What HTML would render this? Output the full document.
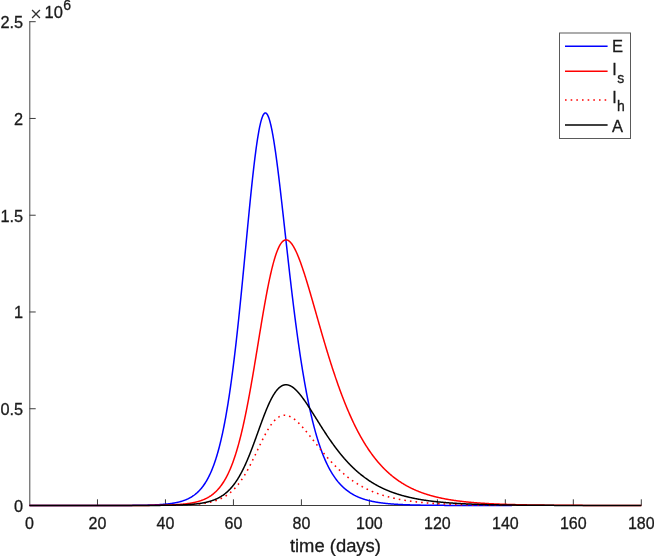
<!DOCTYPE html>
<html lang="en"><head><meta charset="utf-8"><title>Epidemic curves</title>
<style>html,body{margin:0;padding:0;background:#fff}svg{display:block}</style></head>
<body>
<svg width="654" height="556" viewBox="0 0 654 556" style="display:block">
<rect width="654" height="556" fill="#fff"/>
<g stroke="#3d3d3d" stroke-width="1" fill="none">
<path d="M29.8 21.2 V506.0" stroke="#484848"/>
<path d="M29.5 505.5 H641.3"/>
<path d="M97.48 505.5 v-6.2"/>
<path d="M165.46 505.5 v-6.2"/>
<path d="M233.43 505.5 v-6.2"/>
<path d="M301.41 505.5 v-6.2"/>
<path d="M369.39 505.5 v-6.2"/>
<path d="M437.37 505.5 v-6.2"/>
<path d="M505.34 505.5 v-6.2"/>
<path d="M573.32 505.5 v-6.2"/>
<path d="M641.30 505.5 v-6.2"/>
<path d="M29.5 505.50 h6.2"/>
<path d="M29.5 408.74 h6.2"/>
<path d="M29.5 311.98 h6.2"/>
<path d="M29.5 215.22 h6.2"/>
<path d="M29.5 118.46 h6.2"/>
<path d="M29.5 21.70 h6.2"/>
</g>
<g fill="none" stroke-width="1.5" stroke-linejoin="round">
<clipPath id="ce"><rect x="0" y="0" width="512" height="556"/></clipPath><clipPath id="ch"><rect x="192" y="0" width="310" height="556"/></clipPath>
<path d="M29.50 505.50 L29.84 505.50 L30.18 505.50 L30.52 505.50 L30.86 505.50 L31.20 505.50 L31.54 505.50 L31.88 505.50 L32.22 505.50 L32.56 505.50 L32.90 505.50 L33.24 505.50 L33.58 505.50 L33.92 505.50 L34.26 505.50 L34.60 505.50 L34.94 505.50 L35.28 505.50 L35.62 505.50 L35.96 505.50 L36.30 505.50 L36.64 505.50 L36.98 505.50 L37.32 505.50 L37.66 505.50 L38.00 505.50 L38.34 505.50 L38.68 505.50 L39.02 505.50 L39.36 505.50 L39.70 505.50 L40.04 505.50 L40.38 505.50 L40.72 505.50 L41.06 505.50 L41.40 505.50 L41.74 505.50 L42.08 505.50 L42.42 505.50 L42.76 505.50 L43.10 505.50 L43.44 505.50 L43.78 505.50 L44.12 505.50 L44.46 505.50 L44.80 505.50 L45.13 505.50 L45.47 505.50 L45.81 505.50 L46.15 505.50 L46.49 505.50 L46.83 505.50 L47.17 505.50 L47.51 505.50 L47.85 505.50 L48.19 505.50 L48.53 505.50 L48.87 505.50 L49.21 505.50 L49.55 505.50 L49.89 505.50 L50.23 505.50 L50.57 505.50 L50.91 505.50 L51.25 505.50 L51.59 505.50 L51.93 505.50 L52.27 505.50 L52.61 505.50 L52.95 505.50 L53.29 505.50 L53.63 505.50 L53.97 505.50 L54.31 505.50 L54.65 505.50 L54.99 505.50 L55.33 505.50 L55.67 505.50 L56.01 505.50 L56.35 505.50 L56.69 505.50 L57.03 505.50 L57.37 505.50 L57.71 505.50 L58.05 505.50 L58.39 505.50 L58.73 505.50 L59.07 505.50 L59.41 505.50 L59.75 505.50 L60.09 505.50 L60.43 505.50 L60.77 505.50 L61.11 505.50 L61.45 505.50 L61.79 505.50 L62.13 505.50 L62.47 505.50 L62.81 505.50 L63.15 505.50 L63.49 505.50 L63.83 505.50 L64.17 505.50 L64.51 505.50 L64.85 505.50 L65.19 505.50 L65.53 505.50 L65.87 505.50 L66.21 505.50 L66.55 505.50 L66.89 505.50 L67.23 505.50 L67.57 505.50 L67.91 505.50 L68.25 505.50 L68.59 505.50 L68.93 505.50 L69.27 505.50 L69.61 505.50 L69.95 505.50 L70.29 505.50 L70.63 505.50 L70.97 505.50 L71.31 505.50 L71.65 505.50 L71.99 505.50 L72.33 505.50 L72.67 505.50 L73.01 505.50 L73.35 505.50 L73.69 505.50 L74.03 505.50 L74.37 505.50 L74.71 505.50 L75.05 505.50 L75.38 505.50 L75.72 505.50 L76.06 505.50 L76.40 505.50 L76.74 505.50 L77.08 505.50 L77.42 505.50 L77.76 505.50 L78.10 505.50 L78.44 505.50 L78.78 505.50 L79.12 505.50 L79.46 505.50 L79.80 505.50 L80.14 505.50 L80.48 505.50 L80.82 505.50 L81.16 505.50 L81.50 505.50 L81.84 505.50 L82.18 505.50 L82.52 505.50 L82.86 505.50 L83.20 505.50 L83.54 505.50 L83.88 505.50 L84.22 505.50 L84.56 505.50 L84.90 505.50 L85.24 505.50 L85.58 505.50 L85.92 505.50 L86.26 505.50 L86.60 505.50 L86.94 505.50 L87.28 505.50 L87.62 505.49 L87.96 505.49 L88.30 505.49 L88.64 505.49 L88.98 505.49 L89.32 505.49 L89.66 505.49 L90.00 505.49 L90.34 505.49 L90.68 505.49 L91.02 505.49 L91.36 505.49 L91.70 505.49 L92.04 505.49 L92.38 505.49 L92.72 505.49 L93.06 505.49 L93.40 505.49 L93.74 505.49 L94.08 505.49 L94.42 505.49 L94.76 505.49 L95.10 505.49 L95.44 505.49 L95.78 505.49 L96.12 505.49 L96.46 505.49 L96.80 505.49 L97.14 505.49 L97.48 505.49 L97.82 505.49 L98.16 505.49 L98.50 505.49 L98.84 505.49 L99.18 505.49 L99.52 505.49 L99.86 505.49 L100.20 505.49 L100.54 505.49 L100.88 505.49 L101.22 505.49 L101.56 505.49 L101.90 505.49 L102.24 505.49 L102.58 505.49 L102.92 505.48 L103.26 505.48 L103.60 505.48 L103.94 505.48 L104.28 505.48 L104.62 505.48 L104.96 505.48 L105.30 505.48 L105.64 505.48 L105.97 505.48 L106.31 505.48 L106.65 505.48 L106.99 505.48 L107.33 505.48 L107.67 505.48 L108.01 505.48 L108.35 505.48 L108.69 505.48 L109.03 505.48 L109.37 505.48 L109.71 505.48 L110.05 505.47 L110.39 505.47 L110.73 505.47 L111.07 505.47 L111.41 505.47 L111.75 505.47 L112.09 505.47 L112.43 505.47 L112.77 505.47 L113.11 505.47 L113.45 505.47 L113.79 505.47 L114.13 505.47 L114.47 505.47 L114.81 505.46 L115.15 505.46 L115.49 505.46 L115.83 505.46 L116.17 505.46 L116.51 505.46 L116.85 505.46 L117.19 505.46 L117.53 505.46 L117.87 505.46 L118.21 505.45 L118.55 505.45 L118.89 505.45 L119.23 505.45 L119.57 505.45 L119.91 505.45 L120.25 505.45 L120.59 505.45 L120.93 505.44 L121.27 505.44 L121.61 505.44 L121.95 505.44 L122.29 505.44 L122.63 505.44 L122.97 505.44 L123.31 505.43 L123.65 505.43 L123.99 505.43 L124.33 505.43 L124.67 505.43 L125.01 505.43 L125.35 505.42 L125.69 505.42 L126.03 505.42 L126.37 505.42 L126.71 505.42 L127.05 505.41 L127.39 505.41 L127.73 505.41 L128.07 505.41 L128.41 505.41 L128.75 505.40 L129.09 505.40 L129.43 505.40 L129.77 505.40 L130.11 505.39 L130.45 505.39 L130.79 505.39 L131.13 505.39 L131.47 505.38 L131.81 505.38 L132.15 505.38 L132.49 505.37 L132.83 505.37 L133.17 505.37 L133.51 505.36 L133.85 505.36 L134.19 505.36 L134.53 505.35 L134.87 505.35 L135.21 505.35 L135.55 505.34 L135.89 505.34 L136.23 505.34 L136.56 505.33 L136.90 505.33 L137.24 505.32 L137.58 505.32 L137.92 505.31 L138.26 505.31 L138.60 505.30 L138.94 505.30 L139.28 505.29 L139.62 505.29 L139.96 505.28 L140.30 505.28 L140.64 505.27 L140.98 505.27 L141.32 505.26 L141.66 505.26 L142.00 505.25 L142.34 505.24 L142.68 505.24 L143.02 505.23 L143.36 505.22 L143.70 505.22 L144.04 505.21 L144.38 505.20 L144.72 505.20 L145.06 505.19 L145.40 505.18 L145.74 505.17 L146.08 505.17 L146.42 505.16 L146.76 505.15 L147.10 505.14 L147.44 505.13 L147.78 505.12 L148.12 505.11 L148.46 505.10 L148.80 505.09 L149.14 505.08 L149.48 505.07 L149.82 505.06 L150.16 505.05 L150.50 505.04 L150.84 505.03 L151.18 505.02 L151.52 505.01 L151.86 504.99 L152.20 504.98 L152.54 504.97 L152.88 504.96 L153.22 504.94 L153.56 504.93 L153.90 504.91 L154.24 504.90 L154.58 504.89 L154.92 504.87 L155.26 504.85 L155.60 504.84 L155.94 504.82 L156.28 504.81 L156.62 504.79 L156.96 504.77 L157.30 504.75 L157.64 504.74 L157.98 504.72 L158.32 504.70 L158.66 504.68 L159.00 504.66 L159.34 504.64 L159.68 504.61 L160.02 504.59 L160.36 504.57 L160.70 504.55 L161.04 504.52 L161.38 504.50 L161.72 504.48 L162.06 504.45 L162.40 504.42 L162.74 504.40 L163.08 504.37 L163.42 504.34 L163.76 504.31 L164.10 504.29 L164.44 504.26 L164.78 504.22 L165.12 504.19 L165.46 504.16 L165.80 504.13 L166.14 504.09 L166.48 504.06 L166.82 504.02 L167.16 503.99 L167.49 503.95 L167.83 503.91 L168.17 503.87 L168.51 503.83 L168.85 503.79 L169.19 503.75 L169.53 503.71 L169.87 503.66 L170.21 503.62 L170.55 503.57 L170.89 503.52 L171.23 503.48 L171.57 503.43 L171.91 503.38 L172.25 503.32 L172.59 503.27 L172.93 503.21 L173.27 503.16 L173.61 503.10 L173.95 503.04 L174.29 502.98 L174.63 502.92 L174.97 502.86 L175.31 502.79 L175.65 502.72 L175.99 502.66 L176.33 502.59 L176.67 502.51 L177.01 502.44 L177.35 502.37 L177.69 502.29 L178.03 502.21 L178.37 502.13 L178.71 502.05 L179.05 501.96 L179.39 501.87 L179.73 501.79 L180.07 501.69 L180.41 501.60 L180.75 501.51 L181.09 501.41 L181.43 501.31 L181.77 501.20 L182.11 501.10 L182.45 500.99 L182.79 500.88 L183.13 500.77 L183.47 500.65 L183.81 500.53 L184.15 500.41 L184.49 500.29 L184.83 500.16 L185.17 500.03 L185.51 499.89 L185.85 499.76 L186.19 499.62 L186.53 499.47 L186.87 499.32 L187.21 499.17 L187.55 499.02 L187.89 498.86 L188.23 498.70 L188.57 498.53 L188.91 498.36 L189.25 498.19 L189.59 498.01 L189.93 497.83 L190.27 497.64 L190.61 497.45 L190.95 497.25 L191.29 497.05 L191.63 496.84 L191.97 496.63 L192.31 496.42 L192.65 496.19 L192.99 495.97 L193.33 495.74 L193.67 495.50 L194.01 495.25 L194.35 495.01 L194.69 494.75 L195.03 494.49 L195.37 494.22 L195.71 493.95 L196.05 493.67 L196.39 493.38 L196.73 493.09 L197.07 492.79 L197.41 492.48 L197.74 492.16 L198.08 491.84 L198.42 491.51 L198.76 491.17 L199.10 490.82 L199.44 490.47 L199.78 490.11 L200.12 489.73 L200.46 489.35 L200.80 488.96 L201.14 488.57 L201.48 488.16 L201.82 487.74 L202.16 487.31 L202.50 486.88 L202.84 486.43 L203.18 485.97 L203.52 485.50 L203.86 485.02 L204.20 484.53 L204.54 484.03 L204.88 483.51 L205.22 482.99 L205.56 482.45 L205.90 481.90 L206.24 481.34 L206.58 480.76 L206.92 480.17 L207.26 479.57 L207.60 478.95 L207.94 478.32 L208.28 477.68 L208.62 477.02 L208.96 476.34 L209.30 475.65 L209.64 474.95 L209.98 474.23 L210.32 473.49 L210.66 472.74 L211.00 471.96 L211.34 471.18 L211.68 470.37 L212.02 469.55 L212.36 468.70 L212.70 467.84 L213.04 466.96 L213.38 466.07 L213.72 465.15 L214.06 464.21 L214.40 463.25 L214.74 462.27 L215.08 461.27 L215.42 460.24 L215.76 459.20 L216.10 458.13 L216.44 457.04 L216.78 455.93 L217.12 454.79 L217.46 453.63 L217.80 452.45 L218.14 451.24 L218.48 450.00 L218.82 448.74 L219.16 447.45 L219.50 446.14 L219.84 444.80 L220.18 443.43 L220.52 442.04 L220.86 440.62 L221.20 439.16 L221.54 437.68 L221.88 436.17 L222.22 434.63 L222.56 433.06 L222.90 431.46 L223.24 429.83 L223.58 428.17 L223.92 426.48 L224.26 424.75 L224.60 422.99 L224.94 421.20 L225.28 419.37 L225.62 417.52 L225.96 415.62 L226.30 413.70 L226.64 411.74 L226.98 409.74 L227.32 407.71 L227.66 405.64 L228.00 403.54 L228.33 401.40 L228.67 399.23 L229.01 397.02 L229.35 394.77 L229.69 392.49 L230.03 390.17 L230.37 387.81 L230.71 385.41 L231.05 382.98 L231.39 380.51 L231.73 378.00 L232.07 375.46 L232.41 372.88 L232.75 370.26 L233.09 367.60 L233.43 364.91 L233.77 362.18 L234.11 359.41 L234.45 356.61 L234.79 353.77 L235.13 350.89 L235.47 347.98 L235.81 345.04 L236.15 342.06 L236.49 339.04 L236.83 335.99 L237.17 332.91 L237.51 329.79 L237.85 326.64 L238.19 323.47 L238.53 320.26 L238.87 317.02 L239.21 313.75 L239.55 310.45 L239.89 307.13 L240.23 303.78 L240.57 300.40 L240.91 297.01 L241.25 293.59 L241.59 290.14 L241.93 286.68 L242.27 283.20 L242.61 279.70 L242.95 276.19 L243.29 272.66 L243.63 269.12 L243.97 265.56 L244.31 262.00 L244.65 258.43 L244.99 254.86 L245.33 251.28 L245.67 247.70 L246.01 244.12 L246.35 240.54 L246.69 236.96 L247.03 233.40 L247.37 229.84 L247.71 226.29 L248.05 222.75 L248.39 219.23 L248.73 215.72 L249.07 212.24 L249.41 208.78 L249.75 205.34 L250.09 201.93 L250.43 198.54 L250.77 195.19 L251.11 191.88 L251.45 188.60 L251.79 185.36 L252.13 182.16 L252.47 179.01 L252.81 175.90 L253.15 172.85 L253.49 169.84 L253.83 166.89 L254.17 164.00 L254.51 161.16 L254.85 158.39 L255.19 155.68 L255.53 153.03 L255.87 150.46 L256.21 147.95 L256.55 145.52 L256.89 143.16 L257.23 140.88 L257.57 138.68 L257.91 136.55 L258.25 134.51 L258.59 132.56 L258.92 130.69 L259.26 128.90 L259.60 127.21 L259.94 125.61 L260.28 124.10 L260.62 122.68 L260.96 121.35 L261.30 120.12 L261.64 118.98 L261.98 117.95 L262.32 117.01 L262.66 116.16 L263.00 115.42 L263.34 114.77 L263.68 114.23 L264.02 113.78 L264.36 113.43 L264.70 113.18 L265.04 113.03 L265.38 112.98 L265.72 113.03 L266.06 113.17 L266.40 113.42 L266.74 113.76 L267.08 114.19 L267.42 114.72 L267.76 115.35 L268.10 116.07 L268.44 116.88 L268.78 117.78 L269.12 118.77 L269.46 119.85 L269.80 121.02 L270.14 122.27 L270.48 123.61 L270.82 125.02 L271.16 126.52 L271.50 128.10 L271.84 129.75 L272.18 131.48 L272.52 133.28 L272.86 135.16 L273.20 137.10 L273.54 139.11 L273.88 141.18 L274.22 143.32 L274.56 145.52 L274.90 147.78 L275.24 150.09 L275.58 152.46 L275.92 154.88 L276.26 157.35 L276.60 159.87 L276.94 162.44 L277.28 165.05 L277.62 167.70 L277.96 170.39 L278.30 173.12 L278.64 175.89 L278.98 178.68 L279.32 181.51 L279.66 184.37 L280.00 187.26 L280.34 190.17 L280.68 193.10 L281.02 196.06 L281.36 199.03 L281.70 202.02 L282.04 205.03 L282.38 208.06 L282.72 211.09 L283.06 214.14 L283.40 217.19 L283.74 220.25 L284.08 223.32 L284.42 226.39 L284.76 229.47 L285.10 232.55 L285.44 235.62 L285.78 238.70 L286.12 241.77 L286.46 244.84 L286.80 247.90 L287.14 250.96 L287.48 254.00 L287.82 257.04 L288.16 260.07 L288.50 263.09 L288.84 266.10 L289.18 269.09 L289.51 272.07 L289.85 275.04 L290.19 277.99 L290.53 280.92 L290.87 283.84 L291.21 286.74 L291.55 289.62 L291.89 292.48 L292.23 295.32 L292.57 298.15 L292.91 300.95 L293.25 303.73 L293.59 306.48 L293.93 309.22 L294.27 311.93 L294.61 314.62 L294.95 317.29 L295.29 319.93 L295.63 322.55 L295.97 325.14 L296.31 327.71 L296.65 330.25 L296.99 332.77 L297.33 335.27 L297.67 337.73 L298.01 340.18 L298.35 342.59 L298.69 344.98 L299.03 347.35 L299.37 349.69 L299.71 352.00 L300.05 354.29 L300.39 356.55 L300.73 358.78 L301.07 360.99 L301.41 363.17 L301.75 365.33 L302.09 367.46 L302.43 369.56 L302.77 371.64 L303.11 373.69 L303.45 375.71 L303.79 377.71 L304.13 379.69 L304.47 381.64 L304.81 383.56 L305.15 385.46 L305.49 387.33 L305.83 389.18 L306.17 391.01 L306.51 392.81 L306.85 394.58 L307.19 396.33 L307.53 398.06 L307.87 399.76 L308.21 401.44 L308.55 403.10 L308.89 404.73 L309.23 406.34 L309.57 407.93 L309.91 409.49 L310.25 411.04 L310.59 412.56 L310.93 414.05 L311.27 415.53 L311.61 416.99 L311.95 418.42 L312.29 419.83 L312.63 421.22 L312.97 422.59 L313.31 423.94 L313.65 425.27 L313.99 426.58 L314.33 427.88 L314.67 429.15 L315.01 430.40 L315.35 431.63 L315.69 432.85 L316.03 434.04 L316.37 435.22 L316.71 436.38 L317.05 437.52 L317.39 438.64 L317.73 439.75 L318.07 440.84 L318.41 441.91 L318.75 442.97 L319.09 444.01 L319.43 445.03 L319.77 446.04 L320.10 447.03 L320.44 448.00 L320.78 448.96 L321.12 449.91 L321.46 450.84 L321.80 451.75 L322.14 452.65 L322.48 453.54 L322.82 454.41 L323.16 455.27 L323.50 456.11 L323.84 456.94 L324.18 457.76 L324.52 458.56 L324.86 459.35 L325.20 460.13 L325.54 460.90 L325.88 461.65 L326.22 462.39 L326.56 463.12 L326.90 463.83 L327.24 464.54 L327.58 465.23 L327.92 465.91 L328.26 466.58 L328.60 467.24 L328.94 467.89 L329.28 468.53 L329.62 469.16 L329.96 469.78 L330.30 470.38 L330.64 470.98 L330.98 471.57 L331.32 472.14 L331.66 472.71 L332.00 473.27 L332.34 473.82 L332.68 474.36 L333.02 474.89 L333.36 475.41 L333.70 475.93 L334.04 476.43 L334.38 476.93 L334.72 477.41 L335.06 477.89 L335.40 478.37 L335.74 478.83 L336.08 479.29 L336.42 479.73 L336.76 480.18 L337.10 480.61 L337.44 481.04 L337.78 481.45 L338.12 481.87 L338.46 482.27 L338.80 482.67 L339.14 483.06 L339.48 483.44 L339.82 483.82 L340.16 484.19 L340.50 484.56 L340.84 484.92 L341.18 485.27 L341.52 485.62 L341.86 485.96 L342.20 486.30 L342.54 486.63 L342.88 486.95 L343.22 487.27 L343.56 487.58 L343.90 487.89 L344.24 488.19 L344.58 488.49 L344.92 488.78 L345.26 489.07 L345.60 489.35 L345.94 489.63 L346.28 489.90 L346.62 490.17 L346.96 490.44 L347.30 490.69 L347.64 490.95 L347.98 491.20 L348.32 491.45 L348.66 491.69 L349.00 491.93 L349.34 492.16 L349.68 492.39 L350.02 492.61 L350.36 492.84 L350.69 493.05 L351.03 493.27 L351.37 493.48 L351.71 493.69 L352.05 493.89 L352.39 494.09 L352.73 494.29 L353.07 494.48 L353.41 494.67 L353.75 494.86 L354.09 495.04 L354.43 495.22 L354.77 495.40 L355.11 495.57 L355.45 495.74 L355.79 495.91 L356.13 496.07 L356.47 496.24 L356.81 496.40 L357.15 496.55 L357.49 496.71 L357.83 496.86 L358.17 497.01 L358.51 497.15 L358.85 497.30 L359.19 497.44 L359.53 497.58 L359.87 497.71 L360.21 497.85 L360.55 497.98 L360.89 498.11 L361.23 498.23 L361.57 498.36 L361.91 498.48 L362.25 498.60 L362.59 498.72 L362.93 498.84 L363.27 498.95 L363.61 499.07 L363.95 499.18 L364.29 499.28 L364.63 499.39 L364.97 499.50 L365.31 499.60 L365.65 499.70 L365.99 499.80 L366.33 499.90 L366.67 499.99 L367.01 500.09 L367.35 500.18 L367.69 500.27 L368.03 500.36 L368.37 500.45 L368.71 500.54 L369.05 500.62 L369.39 500.71 L369.73 500.79 L370.07 500.87 L370.41 500.95 L370.75 501.03 L371.09 501.10 L371.43 501.18 L371.77 501.25 L372.11 501.33 L372.45 501.40 L372.79 501.47 L373.13 501.54 L373.47 501.60 L373.81 501.67 L374.15 501.74 L374.49 501.80 L374.83 501.86 L375.17 501.93 L375.51 501.99 L375.85 502.05 L376.19 502.11 L376.53 502.16 L376.87 502.22 L377.21 502.28 L377.55 502.33 L377.89 502.39 L378.23 502.44 L378.57 502.49 L378.91 502.54 L379.25 502.59 L379.59 502.64 L379.93 502.69 L380.27 502.74 L380.61 502.79 L380.95 502.83 L381.28 502.88 L381.62 502.92 L381.96 502.97 L382.30 503.01 L382.64 503.05 L382.98 503.09 L383.32 503.13 L383.66 503.18 L384.00 503.21 L384.34 503.25 L384.68 503.29 L385.02 503.33 L385.36 503.37 L385.70 503.40 L386.04 503.44 L386.38 503.47 L386.72 503.51 L387.06 503.54 L387.40 503.57 L387.74 503.61 L388.08 503.64 L388.42 503.67 L388.76 503.70 L389.10 503.73 L389.44 503.76 L389.78 503.79 L390.12 503.82 L390.46 503.85 L390.80 503.88 L391.14 503.90 L391.48 503.93 L391.82 503.96 L392.16 503.98 L392.50 504.01 L392.84 504.03 L393.18 504.06 L393.52 504.08 L393.86 504.11 L394.20 504.13 L394.54 504.15 L394.88 504.18 L395.22 504.20 L395.56 504.22 L395.90 504.24 L396.24 504.26 L396.58 504.28 L396.92 504.30 L397.26 504.32 L397.60 504.34 L397.94 504.36 L398.28 504.38 L398.62 504.40 L398.96 504.42 L399.30 504.44 L399.64 504.45 L399.98 504.47 L400.32 504.49 L400.66 504.51 L401.00 504.52 L401.34 504.54 L401.68 504.55 L402.02 504.57 L402.36 504.59 L402.70 504.60 L403.04 504.62 L403.38 504.63 L403.72 504.64 L404.06 504.66 L404.40 504.67 L404.74 504.69 L405.08 504.70 L405.42 504.71 L405.76 504.73 L406.10 504.74 L406.44 504.75 L406.78 504.76 L407.12 504.78 L407.46 504.79 L407.80 504.80 L408.14 504.81 L408.48 504.82 L408.82 504.83 L409.16 504.85 L409.50 504.86 L409.84 504.87 L410.18 504.88 L410.52 504.89 L410.86 504.90 L411.20 504.91 L411.54 504.92 L411.87 504.93 L412.21 504.94 L412.55 504.94 L412.89 504.95 L413.23 504.96 L413.57 504.97 L413.91 504.98 L414.25 504.99 L414.59 505.00 L414.93 505.01 L415.27 505.01 L415.61 505.02 L415.95 505.03 L416.29 505.04 L416.63 505.04 L416.97 505.05 L417.31 505.06 L417.65 505.07 L417.99 505.07 L418.33 505.08 L418.67 505.09 L419.01 505.09 L419.35 505.10 L419.69 505.11 L420.03 505.11 L420.37 505.12 L420.71 505.13 L421.05 505.13 L421.39 505.14 L421.73 505.14 L422.07 505.15 L422.41 505.15 L422.75 505.16 L423.09 505.17 L423.43 505.17 L423.77 505.18 L424.11 505.18 L424.45 505.19 L424.79 505.19 L425.13 505.20 L425.47 505.20 L425.81 505.21 L426.15 505.21 L426.49 505.22 L426.83 505.22 L427.17 505.22 L427.51 505.23 L427.85 505.23 L428.19 505.24 L428.53 505.24 L428.87 505.25 L429.21 505.25 L429.55 505.25 L429.89 505.26 L430.23 505.26 L430.57 505.27 L430.91 505.27 L431.25 505.27 L431.59 505.28 L431.93 505.28 L432.27 505.28 L432.61 505.29 L432.95 505.29 L433.29 505.29 L433.63 505.30 L433.97 505.30 L434.31 505.30 L434.65 505.31 L434.99 505.31 L435.33 505.31 L435.67 505.31 L436.01 505.32 L436.35 505.32 L436.69 505.32 L437.03 505.33 L437.37 505.33 L437.71 505.33 L438.05 505.33 L438.39 505.34 L438.73 505.34 L439.07 505.34 L439.41 505.34 L439.75 505.35 L440.09 505.35 L440.43 505.35 L440.77 505.35 L441.11 505.36 L441.45 505.36 L441.79 505.36 L442.13 505.36 L442.46 505.36 L442.80 505.37 L443.14 505.37 L443.48 505.37 L443.82 505.37 L444.16 505.37 L444.50 505.38 L444.84 505.38 L445.18 505.38 L445.52 505.38 L445.86 505.38 L446.20 505.39 L446.54 505.39 L446.88 505.39 L447.22 505.39 L447.56 505.39 L447.90 505.39 L448.24 505.40 L448.58 505.40 L448.92 505.40 L449.26 505.40 L449.60 505.40 L449.94 505.40 L450.28 505.40 L450.62 505.41 L450.96 505.41 L451.30 505.41 L451.64 505.41 L451.98 505.41 L452.32 505.41 L452.66 505.41 L453.00 505.42 L453.34 505.42 L453.68 505.42 L454.02 505.42 L454.36 505.42 L454.70 505.42 L455.04 505.42 L455.38 505.42 L455.72 505.42 L456.06 505.43 L456.40 505.43 L456.74 505.43 L457.08 505.43 L457.42 505.43 L457.76 505.43 L458.10 505.43 L458.44 505.43 L458.78 505.43 L459.12 505.44 L459.46 505.44 L459.80 505.44 L460.14 505.44 L460.48 505.44 L460.82 505.44 L461.16 505.44 L461.50 505.44 L461.84 505.44 L462.18 505.44 L462.52 505.44 L462.86 505.44 L463.20 505.45 L463.54 505.45 L463.88 505.45 L464.22 505.45 L464.56 505.45 L464.90 505.45 L465.24 505.45 L465.58 505.45 L465.92 505.45 L466.26 505.45 L466.60 505.45 L466.94 505.45 L467.28 505.45 L467.62 505.45 L467.96 505.46 L468.30 505.46 L468.64 505.46 L468.98 505.46 L469.32 505.46 L469.66 505.46 L470.00 505.46 L470.34 505.46 L470.68 505.46 L471.02 505.46 L471.36 505.46 L471.70 505.46 L472.04 505.46 L472.38 505.46 L472.72 505.46 L473.05 505.46 L473.39 505.46 L473.73 505.47 L474.07 505.47 L474.41 505.47 L474.75 505.47 L475.09 505.47 L475.43 505.47 L475.77 505.47 L476.11 505.47 L476.45 505.47 L476.79 505.47 L477.13 505.47 L477.47 505.47 L477.81 505.47 L478.15 505.47 L478.49 505.47 L478.83 505.47 L479.17 505.47 L479.51 505.47 L479.85 505.47 L480.19 505.47 L480.53 505.47 L480.87 505.47 L481.21 505.47 L481.55 505.47 L481.89 505.47 L482.23 505.48 L482.57 505.48 L482.91 505.48 L483.25 505.48 L483.59 505.48 L483.93 505.48 L484.27 505.48 L484.61 505.48 L484.95 505.48 L485.29 505.48 L485.63 505.48 L485.97 505.48 L486.31 505.48 L486.65 505.48 L486.99 505.48 L487.33 505.48 L487.67 505.48 L488.01 505.48 L488.35 505.48 L488.69 505.48 L489.03 505.48 L489.37 505.48 L489.71 505.48 L490.05 505.48 L490.39 505.48 L490.73 505.48 L491.07 505.48 L491.41 505.48 L491.75 505.48 L492.09 505.48 L492.43 505.48 L492.77 505.48 L493.11 505.48 L493.45 505.48 L493.79 505.48 L494.13 505.48 L494.47 505.48 L494.81 505.48 L495.15 505.49 L495.49 505.49 L495.83 505.49 L496.17 505.49 L496.51 505.49 L496.85 505.49 L497.19 505.49 L497.53 505.49 L497.87 505.49 L498.21 505.49 L498.55 505.49 L498.89 505.49 L499.23 505.49 L499.57 505.49 L499.91 505.49 L500.25 505.49 L500.59 505.49 L500.93 505.49 L501.27 505.49 L501.61 505.49 L501.95 505.49 L502.29 505.49 L502.63 505.49 L502.97 505.49 L503.31 505.49 L503.64 505.49 L503.98 505.49 L504.32 505.49 L504.66 505.49 L505.00 505.49 L505.34 505.49 L505.68 505.49 L506.02 505.49 L506.36 505.49 L506.70 505.49 L507.04 505.49 L507.38 505.49 L507.72 505.49 L508.06 505.49 L508.40 505.49 L508.74 505.49 L509.08 505.49 L509.42 505.49 L509.76 505.49 L510.10 505.49 L510.44 505.49 L510.78 505.49 L511.12 505.49 L511.46 505.49 L511.80 505.49 L512.14 505.49 L512.48 505.49 L512.82 505.49 L513.16 505.49 L513.50 505.49 L513.84 505.49 L514.18 505.49 L514.52 505.49 L514.86 505.49 L515.20 505.49 L515.54 505.49 L515.88 505.49 L516.22 505.49 L516.56 505.49 L516.90 505.49 L517.24 505.49 L517.58 505.49 L517.92 505.49 L518.26 505.49 L518.60 505.49 L518.94 505.49 L519.28 505.49 L519.62 505.49 L519.96 505.49 L520.30 505.49 L520.64 505.49 L520.98 505.49 L521.32 505.49 L521.66 505.49 L522.00 505.49 L522.34 505.49 L522.68 505.49 L523.02 505.49 L523.36 505.49 L523.70 505.49 L524.04 505.49 L524.38 505.49 L524.72 505.49 L525.06 505.50 L525.40 505.50 L525.74 505.50 L526.08 505.50 L526.42 505.50 L526.76 505.50 L527.10 505.50 L527.44 505.50 L527.78 505.50 L528.12 505.50 L528.46 505.50 L528.80 505.50 L529.14 505.50 L529.48 505.50 L529.82 505.50 L530.16 505.50 L530.50 505.50 L530.84 505.50 L531.18 505.50 L531.52 505.50 L531.86 505.50 L532.20 505.50 L532.54 505.50 L532.88 505.50 L533.22 505.50 L533.56 505.50 L533.90 505.50 L534.23 505.50 L534.57 505.50 L534.91 505.50 L535.25 505.50 L535.59 505.50 L535.93 505.50 L536.27 505.50 L536.61 505.50 L536.95 505.50 L537.29 505.50 L537.63 505.50 L537.97 505.50 L538.31 505.50 L538.65 505.50 L538.99 505.50 L539.33 505.50 L539.67 505.50 L540.01 505.50 L540.35 505.50 L540.69 505.50 L541.03 505.50 L541.37 505.50 L541.71 505.50 L542.05 505.50 L542.39 505.50 L542.73 505.50 L543.07 505.50 L543.41 505.50 L543.75 505.50 L544.09 505.50 L544.43 505.50 L544.77 505.50 L545.11 505.50 L545.45 505.50 L545.79 505.50 L546.13 505.50 L546.47 505.50 L546.81 505.50 L547.15 505.50 L547.49 505.50 L547.83 505.50 L548.17 505.50 L548.51 505.50 L548.85 505.50 L549.19 505.50 L549.53 505.50 L549.87 505.50 L550.21 505.50 L550.55 505.50 L550.89 505.50 L551.23 505.50 L551.57 505.50 L551.91 505.50 L552.25 505.50 L552.59 505.50 L552.93 505.50 L553.27 505.50 L553.61 505.50 L553.95 505.50 L554.29 505.50 L554.63 505.50 L554.97 505.50 L555.31 505.50 L555.65 505.50 L555.99 505.50 L556.33 505.50 L556.67 505.50 L557.01 505.50 L557.35 505.50 L557.69 505.50 L558.03 505.50 L558.37 505.50 L558.71 505.50 L559.05 505.50 L559.39 505.50 L559.73 505.50 L560.07 505.50 L560.41 505.50 L560.75 505.50 L561.09 505.50 L561.43 505.50 L561.77 505.50 L562.11 505.50 L562.45 505.50 L562.79 505.50 L563.13 505.50 L563.47 505.50 L563.81 505.50 L564.15 505.50 L564.49 505.50 L564.82 505.50 L565.16 505.50 L565.50 505.50 L565.84 505.50 L566.18 505.50 L566.52 505.50 L566.86 505.50 L567.20 505.50 L567.54 505.50 L567.88 505.50 L568.22 505.50 L568.56 505.50 L568.90 505.50 L569.24 505.50 L569.58 505.50 L569.92 505.50 L570.26 505.50 L570.60 505.50 L570.94 505.50 L571.28 505.50 L571.62 505.50 L571.96 505.50 L572.30 505.50 L572.64 505.50 L572.98 505.50 L573.32 505.50 L573.66 505.50 L574.00 505.50 L574.34 505.50 L574.68 505.50 L575.02 505.50 L575.36 505.50 L575.70 505.50 L576.04 505.50 L576.38 505.50 L576.72 505.50 L577.06 505.50 L577.40 505.50 L577.74 505.50 L578.08 505.50 L578.42 505.50 L578.76 505.50 L579.10 505.50 L579.44 505.50 L579.78 505.50 L580.12 505.50 L580.46 505.50 L580.80 505.50 L581.14 505.50 L581.48 505.50 L581.82 505.50 L582.16 505.50 L582.50 505.50 L582.84 505.50 L583.18 505.50 L583.52 505.50 L583.86 505.50 L584.20 505.50 L584.54 505.50 L584.88 505.50 L585.22 505.50 L585.56 505.50 L585.90 505.50 L586.24 505.50 L586.58 505.50 L586.92 505.50 L587.26 505.50 L587.60 505.50 L587.94 505.50 L588.28 505.50 L588.62 505.50 L588.96 505.50 L589.30 505.50 L589.64 505.50 L589.98 505.50 L590.32 505.50 L590.66 505.50 L591.00 505.50 L591.34 505.50 L591.68 505.50 L592.02 505.50 L592.36 505.50 L592.70 505.50 L593.04 505.50 L593.38 505.50 L593.72 505.50 L594.06 505.50 L594.40 505.50 L594.74 505.50 L595.08 505.50 L595.41 505.50 L595.75 505.50 L596.09 505.50 L596.43 505.50 L596.77 505.50 L597.11 505.50 L597.45 505.50 L597.79 505.50 L598.13 505.50 L598.47 505.50 L598.81 505.50 L599.15 505.50 L599.49 505.50 L599.83 505.50 L600.17 505.50 L600.51 505.50 L600.85 505.50 L601.19 505.50 L601.53 505.50 L601.87 505.50 L602.21 505.50 L602.55 505.50 L602.89 505.50 L603.23 505.50 L603.57 505.50 L603.91 505.50 L604.25 505.50 L604.59 505.50 L604.93 505.50 L605.27 505.50 L605.61 505.50 L605.95 505.50 L606.29 505.50 L606.63 505.50 L606.97 505.50 L607.31 505.50 L607.65 505.50 L607.99 505.50 L608.33 505.50 L608.67 505.50 L609.01 505.50 L609.35 505.50 L609.69 505.50 L610.03 505.50 L610.37 505.50 L610.71 505.50 L611.05 505.50 L611.39 505.50 L611.73 505.50 L612.07 505.50 L612.41 505.50 L612.75 505.50 L613.09 505.50 L613.43 505.50 L613.77 505.50 L614.11 505.50 L614.45 505.50 L614.79 505.50 L615.13 505.50 L615.47 505.50 L615.81 505.50 L616.15 505.50 L616.49 505.50 L616.83 505.50 L617.17 505.50 L617.51 505.50 L617.85 505.50 L618.19 505.50 L618.53 505.50 L618.87 505.50 L619.21 505.50 L619.55 505.50 L619.89 505.50 L620.23 505.50 L620.57 505.50 L620.91 505.50 L621.25 505.50 L621.59 505.50 L621.93 505.50 L622.27 505.50 L622.61 505.50 L622.95 505.50 L623.29 505.50 L623.63 505.50 L623.97 505.50 L624.31 505.50 L624.65 505.50 L624.99 505.50 L625.33 505.50 L625.67 505.50 L626.00 505.50 L626.34 505.50 L626.68 505.50 L627.02 505.50 L627.36 505.50 L627.70 505.50 L628.04 505.50 L628.38 505.50 L628.72 505.50 L629.06 505.50 L629.40 505.50 L629.74 505.50 L630.08 505.50 L630.42 505.50 L630.76 505.50 L631.10 505.50 L631.44 505.50 L631.78 505.50 L632.12 505.50 L632.46 505.50 L632.80 505.50 L633.14 505.50 L633.48 505.50 L633.82 505.50 L634.16 505.50 L634.50 505.50 L634.84 505.50 L635.18 505.50 L635.52 505.50 L635.86 505.50 L636.20 505.50 L636.54 505.50 L636.88 505.50 L637.22 505.50 L637.56 505.50 L637.90 505.50 L638.24 505.50 L638.58 505.50 L638.92 505.50 L639.26 505.50 L639.60 505.50 L639.94 505.50 L640.28 505.50 L640.62 505.50 L640.96 505.50 L641.30 505.50" stroke="#0000ff" clip-path="url(#ce)"/>
<path d="M29.50 505.50 L29.84 505.50 L30.18 505.50 L30.52 505.50 L30.86 505.50 L31.20 505.50 L31.54 505.50 L31.88 505.50 L32.22 505.50 L32.56 505.50 L32.90 505.50 L33.24 505.50 L33.58 505.50 L33.92 505.50 L34.26 505.50 L34.60 505.50 L34.94 505.50 L35.28 505.50 L35.62 505.50 L35.96 505.50 L36.30 505.50 L36.64 505.50 L36.98 505.50 L37.32 505.50 L37.66 505.50 L38.00 505.50 L38.34 505.50 L38.68 505.50 L39.02 505.50 L39.36 505.50 L39.70 505.50 L40.04 505.50 L40.38 505.50 L40.72 505.50 L41.06 505.50 L41.40 505.50 L41.74 505.50 L42.08 505.50 L42.42 505.50 L42.76 505.50 L43.10 505.50 L43.44 505.50 L43.78 505.50 L44.12 505.50 L44.46 505.50 L44.80 505.50 L45.13 505.50 L45.47 505.50 L45.81 505.50 L46.15 505.50 L46.49 505.50 L46.83 505.50 L47.17 505.50 L47.51 505.50 L47.85 505.50 L48.19 505.50 L48.53 505.50 L48.87 505.50 L49.21 505.50 L49.55 505.50 L49.89 505.50 L50.23 505.50 L50.57 505.50 L50.91 505.50 L51.25 505.50 L51.59 505.50 L51.93 505.50 L52.27 505.50 L52.61 505.50 L52.95 505.50 L53.29 505.50 L53.63 505.50 L53.97 505.50 L54.31 505.50 L54.65 505.50 L54.99 505.50 L55.33 505.50 L55.67 505.50 L56.01 505.50 L56.35 505.50 L56.69 505.50 L57.03 505.50 L57.37 505.50 L57.71 505.50 L58.05 505.50 L58.39 505.50 L58.73 505.50 L59.07 505.50 L59.41 505.50 L59.75 505.50 L60.09 505.50 L60.43 505.50 L60.77 505.50 L61.11 505.50 L61.45 505.50 L61.79 505.50 L62.13 505.50 L62.47 505.50 L62.81 505.50 L63.15 505.50 L63.49 505.50 L63.83 505.50 L64.17 505.50 L64.51 505.50 L64.85 505.50 L65.19 505.50 L65.53 505.50 L65.87 505.50 L66.21 505.50 L66.55 505.50 L66.89 505.50 L67.23 505.50 L67.57 505.50 L67.91 505.50 L68.25 505.50 L68.59 505.50 L68.93 505.50 L69.27 505.50 L69.61 505.50 L69.95 505.50 L70.29 505.50 L70.63 505.50 L70.97 505.50 L71.31 505.50 L71.65 505.50 L71.99 505.50 L72.33 505.50 L72.67 505.50 L73.01 505.50 L73.35 505.50 L73.69 505.50 L74.03 505.50 L74.37 505.50 L74.71 505.50 L75.05 505.50 L75.38 505.50 L75.72 505.50 L76.06 505.50 L76.40 505.50 L76.74 505.50 L77.08 505.50 L77.42 505.50 L77.76 505.50 L78.10 505.50 L78.44 505.50 L78.78 505.50 L79.12 505.50 L79.46 505.50 L79.80 505.50 L80.14 505.50 L80.48 505.50 L80.82 505.50 L81.16 505.50 L81.50 505.50 L81.84 505.50 L82.18 505.50 L82.52 505.50 L82.86 505.50 L83.20 505.50 L83.54 505.50 L83.88 505.50 L84.22 505.50 L84.56 505.50 L84.90 505.50 L85.24 505.50 L85.58 505.50 L85.92 505.50 L86.26 505.50 L86.60 505.50 L86.94 505.50 L87.28 505.50 L87.62 505.50 L87.96 505.50 L88.30 505.50 L88.64 505.50 L88.98 505.50 L89.32 505.50 L89.66 505.50 L90.00 505.50 L90.34 505.50 L90.68 505.50 L91.02 505.50 L91.36 505.50 L91.70 505.50 L92.04 505.50 L92.38 505.50 L92.72 505.50 L93.06 505.50 L93.40 505.50 L93.74 505.50 L94.08 505.50 L94.42 505.50 L94.76 505.50 L95.10 505.50 L95.44 505.50 L95.78 505.50 L96.12 505.50 L96.46 505.50 L96.80 505.50 L97.14 505.50 L97.48 505.50 L97.82 505.50 L98.16 505.50 L98.50 505.50 L98.84 505.50 L99.18 505.50 L99.52 505.50 L99.86 505.50 L100.20 505.50 L100.54 505.50 L100.88 505.50 L101.22 505.50 L101.56 505.50 L101.90 505.50 L102.24 505.50 L102.58 505.50 L102.92 505.50 L103.26 505.50 L103.60 505.50 L103.94 505.50 L104.28 505.50 L104.62 505.50 L104.96 505.49 L105.30 505.49 L105.64 505.49 L105.97 505.49 L106.31 505.49 L106.65 505.49 L106.99 505.49 L107.33 505.49 L107.67 505.49 L108.01 505.49 L108.35 505.49 L108.69 505.49 L109.03 505.49 L109.37 505.49 L109.71 505.49 L110.05 505.49 L110.39 505.49 L110.73 505.49 L111.07 505.49 L111.41 505.49 L111.75 505.49 L112.09 505.49 L112.43 505.49 L112.77 505.49 L113.11 505.49 L113.45 505.49 L113.79 505.49 L114.13 505.49 L114.47 505.49 L114.81 505.49 L115.15 505.49 L115.49 505.49 L115.83 505.49 L116.17 505.49 L116.51 505.49 L116.85 505.49 L117.19 505.49 L117.53 505.49 L117.87 505.49 L118.21 505.49 L118.55 505.49 L118.89 505.49 L119.23 505.49 L119.57 505.49 L119.91 505.49 L120.25 505.48 L120.59 505.48 L120.93 505.48 L121.27 505.48 L121.61 505.48 L121.95 505.48 L122.29 505.48 L122.63 505.48 L122.97 505.48 L123.31 505.48 L123.65 505.48 L123.99 505.48 L124.33 505.48 L124.67 505.48 L125.01 505.48 L125.35 505.48 L125.69 505.48 L126.03 505.48 L126.37 505.48 L126.71 505.48 L127.05 505.48 L127.39 505.47 L127.73 505.47 L128.07 505.47 L128.41 505.47 L128.75 505.47 L129.09 505.47 L129.43 505.47 L129.77 505.47 L130.11 505.47 L130.45 505.47 L130.79 505.47 L131.13 505.47 L131.47 505.47 L131.81 505.47 L132.15 505.46 L132.49 505.46 L132.83 505.46 L133.17 505.46 L133.51 505.46 L133.85 505.46 L134.19 505.46 L134.53 505.46 L134.87 505.46 L135.21 505.46 L135.55 505.45 L135.89 505.45 L136.23 505.45 L136.56 505.45 L136.90 505.45 L137.24 505.45 L137.58 505.45 L137.92 505.45 L138.26 505.44 L138.60 505.44 L138.94 505.44 L139.28 505.44 L139.62 505.44 L139.96 505.44 L140.30 505.44 L140.64 505.43 L140.98 505.43 L141.32 505.43 L141.66 505.43 L142.00 505.43 L142.34 505.43 L142.68 505.42 L143.02 505.42 L143.36 505.42 L143.70 505.42 L144.04 505.42 L144.38 505.41 L144.72 505.41 L145.06 505.41 L145.40 505.41 L145.74 505.41 L146.08 505.40 L146.42 505.40 L146.76 505.40 L147.10 505.40 L147.44 505.39 L147.78 505.39 L148.12 505.39 L148.46 505.38 L148.80 505.38 L149.14 505.38 L149.48 505.38 L149.82 505.37 L150.16 505.37 L150.50 505.37 L150.84 505.36 L151.18 505.36 L151.52 505.36 L151.86 505.35 L152.20 505.35 L152.54 505.35 L152.88 505.34 L153.22 505.34 L153.56 505.33 L153.90 505.33 L154.24 505.33 L154.58 505.32 L154.92 505.32 L155.26 505.31 L155.60 505.31 L155.94 505.30 L156.28 505.30 L156.62 505.29 L156.96 505.29 L157.30 505.28 L157.64 505.28 L157.98 505.27 L158.32 505.27 L158.66 505.26 L159.00 505.26 L159.34 505.25 L159.68 505.24 L160.02 505.24 L160.36 505.23 L160.70 505.22 L161.04 505.22 L161.38 505.21 L161.72 505.20 L162.06 505.20 L162.40 505.19 L162.74 505.18 L163.08 505.17 L163.42 505.16 L163.76 505.16 L164.10 505.15 L164.44 505.14 L164.78 505.13 L165.12 505.12 L165.46 505.11 L165.80 505.10 L166.14 505.09 L166.48 505.08 L166.82 505.07 L167.16 505.06 L167.49 505.05 L167.83 505.04 L168.17 505.03 L168.51 505.02 L168.85 505.00 L169.19 504.99 L169.53 504.98 L169.87 504.97 L170.21 504.95 L170.55 504.94 L170.89 504.93 L171.23 504.91 L171.57 504.90 L171.91 504.88 L172.25 504.87 L172.59 504.85 L172.93 504.84 L173.27 504.82 L173.61 504.80 L173.95 504.79 L174.29 504.77 L174.63 504.75 L174.97 504.73 L175.31 504.71 L175.65 504.69 L175.99 504.67 L176.33 504.65 L176.67 504.63 L177.01 504.61 L177.35 504.59 L177.69 504.57 L178.03 504.54 L178.37 504.52 L178.71 504.50 L179.05 504.47 L179.39 504.45 L179.73 504.42 L180.07 504.39 L180.41 504.37 L180.75 504.34 L181.09 504.31 L181.43 504.28 L181.77 504.25 L182.11 504.22 L182.45 504.19 L182.79 504.16 L183.13 504.12 L183.47 504.09 L183.81 504.05 L184.15 504.02 L184.49 503.98 L184.83 503.94 L185.17 503.91 L185.51 503.87 L185.85 503.83 L186.19 503.79 L186.53 503.74 L186.87 503.70 L187.21 503.66 L187.55 503.61 L187.89 503.57 L188.23 503.52 L188.57 503.47 L188.91 503.42 L189.25 503.37 L189.59 503.32 L189.93 503.26 L190.27 503.21 L190.61 503.15 L190.95 503.09 L191.29 503.03 L191.63 502.97 L191.97 502.91 L192.31 502.85 L192.65 502.78 L192.99 502.72 L193.33 502.65 L193.67 502.58 L194.01 502.51 L194.35 502.44 L194.69 502.36 L195.03 502.28 L195.37 502.21 L195.71 502.12 L196.05 502.04 L196.39 501.96 L196.73 501.87 L197.07 501.78 L197.41 501.69 L197.74 501.60 L198.08 501.50 L198.42 501.41 L198.76 501.31 L199.10 501.20 L199.44 501.10 L199.78 500.99 L200.12 500.88 L200.46 500.77 L200.80 500.65 L201.14 500.54 L201.48 500.42 L201.82 500.29 L202.16 500.17 L202.50 500.04 L202.84 499.90 L203.18 499.77 L203.52 499.63 L203.86 499.49 L204.20 499.34 L204.54 499.19 L204.88 499.04 L205.22 498.88 L205.56 498.72 L205.90 498.56 L206.24 498.39 L206.58 498.22 L206.92 498.04 L207.26 497.86 L207.60 497.68 L207.94 497.49 L208.28 497.29 L208.62 497.10 L208.96 496.89 L209.30 496.69 L209.64 496.47 L209.98 496.26 L210.32 496.03 L210.66 495.81 L211.00 495.57 L211.34 495.34 L211.68 495.09 L212.02 494.84 L212.36 494.59 L212.70 494.33 L213.04 494.06 L213.38 493.79 L213.72 493.51 L214.06 493.22 L214.40 492.93 L214.74 492.63 L215.08 492.32 L215.42 492.01 L215.76 491.69 L216.10 491.36 L216.44 491.03 L216.78 490.68 L217.12 490.33 L217.46 489.98 L217.80 489.61 L218.14 489.23 L218.48 488.85 L218.82 488.46 L219.16 488.06 L219.50 487.65 L219.84 487.23 L220.18 486.80 L220.52 486.37 L220.86 485.92 L221.20 485.46 L221.54 485.00 L221.88 484.52 L222.22 484.03 L222.56 483.54 L222.90 483.03 L223.24 482.51 L223.58 481.98 L223.92 481.43 L224.26 480.88 L224.60 480.31 L224.94 479.74 L225.28 479.15 L225.62 478.55 L225.96 477.93 L226.30 477.30 L226.64 476.66 L226.98 476.01 L227.32 475.34 L227.66 474.66 L228.00 473.96 L228.33 473.25 L228.67 472.53 L229.01 471.79 L229.35 471.04 L229.69 470.27 L230.03 469.49 L230.37 468.69 L230.71 467.88 L231.05 467.05 L231.39 466.20 L231.73 465.34 L232.07 464.46 L232.41 463.56 L232.75 462.65 L233.09 461.72 L233.43 460.77 L233.77 459.81 L234.11 458.82 L234.45 457.82 L234.79 456.81 L235.13 455.77 L235.47 454.71 L235.81 453.64 L236.15 452.55 L236.49 451.44 L236.83 450.31 L237.17 449.16 L237.51 447.99 L237.85 446.80 L238.19 445.59 L238.53 444.36 L238.87 443.12 L239.21 441.85 L239.55 440.56 L239.89 439.25 L240.23 437.93 L240.57 436.58 L240.91 435.21 L241.25 433.82 L241.59 432.41 L241.93 430.98 L242.27 429.53 L242.61 428.06 L242.95 426.57 L243.29 425.06 L243.63 423.53 L243.97 421.98 L244.31 420.41 L244.65 418.82 L244.99 417.21 L245.33 415.58 L245.67 413.94 L246.01 412.27 L246.35 410.58 L246.69 408.88 L247.03 407.15 L247.37 405.41 L247.71 403.65 L248.05 401.87 L248.39 400.07 L248.73 398.26 L249.07 396.43 L249.41 394.59 L249.75 392.72 L250.09 390.85 L250.43 388.95 L250.77 387.05 L251.11 385.13 L251.45 383.19 L251.79 381.24 L252.13 379.28 L252.47 377.31 L252.81 375.32 L253.15 373.33 L253.49 371.32 L253.83 369.31 L254.17 367.28 L254.51 365.25 L254.85 363.21 L255.19 361.16 L255.53 359.10 L255.87 357.04 L256.21 354.98 L256.55 352.91 L256.89 350.84 L257.23 348.76 L257.57 346.69 L257.91 344.61 L258.25 342.53 L258.59 340.46 L258.92 338.38 L259.26 336.31 L259.60 334.24 L259.94 332.17 L260.28 330.11 L260.62 328.06 L260.96 326.01 L261.30 323.97 L261.64 321.93 L261.98 319.91 L262.32 317.90 L262.66 315.90 L263.00 313.91 L263.34 311.93 L263.68 309.97 L264.02 308.02 L264.36 306.08 L264.70 304.16 L265.04 302.26 L265.38 300.38 L265.72 298.51 L266.06 296.67 L266.40 294.84 L266.74 293.04 L267.08 291.26 L267.42 289.50 L267.76 287.76 L268.10 286.04 L268.44 284.36 L268.78 282.69 L269.12 281.05 L269.46 279.44 L269.80 277.86 L270.14 276.30 L270.48 274.77 L270.82 273.27 L271.16 271.80 L271.50 270.36 L271.84 268.94 L272.18 267.56 L272.52 266.21 L272.86 264.90 L273.20 263.61 L273.54 262.36 L273.88 261.13 L274.22 259.95 L274.56 258.79 L274.90 257.67 L275.24 256.58 L275.58 255.53 L275.92 254.51 L276.26 253.52 L276.60 252.57 L276.94 251.65 L277.28 250.77 L277.62 249.92 L277.96 249.11 L278.30 248.33 L278.64 247.59 L278.98 246.88 L279.32 246.21 L279.66 245.57 L280.00 244.96 L280.34 244.40 L280.68 243.86 L281.02 243.36 L281.36 242.89 L281.70 242.46 L282.04 242.06 L282.38 241.70 L282.72 241.37 L283.06 241.07 L283.40 240.81 L283.74 240.58 L284.08 240.38 L284.42 240.21 L284.76 240.08 L285.10 239.98 L285.44 239.91 L285.78 239.87 L286.12 239.86 L286.46 239.88 L286.80 239.93 L287.14 240.01 L287.48 240.12 L287.82 240.26 L288.16 240.43 L288.50 240.63 L288.84 240.85 L289.18 241.11 L289.51 241.39 L289.85 241.69 L290.19 242.02 L290.53 242.38 L290.87 242.77 L291.21 243.17 L291.55 243.61 L291.89 244.07 L292.23 244.55 L292.57 245.05 L292.91 245.58 L293.25 246.13 L293.59 246.70 L293.93 247.29 L294.27 247.91 L294.61 248.54 L294.95 249.20 L295.29 249.87 L295.63 250.57 L295.97 251.28 L296.31 252.01 L296.65 252.76 L296.99 253.53 L297.33 254.32 L297.67 255.12 L298.01 255.94 L298.35 256.77 L298.69 257.62 L299.03 258.48 L299.37 259.36 L299.71 260.26 L300.05 261.17 L300.39 262.09 L300.73 263.02 L301.07 263.97 L301.41 264.93 L301.75 265.90 L302.09 266.89 L302.43 267.88 L302.77 268.89 L303.11 269.90 L303.45 270.93 L303.79 271.97 L304.13 273.01 L304.47 274.07 L304.81 275.13 L305.15 276.20 L305.49 277.28 L305.83 278.37 L306.17 279.47 L306.51 280.57 L306.85 281.68 L307.19 282.79 L307.53 283.92 L307.87 285.04 L308.21 286.18 L308.55 287.32 L308.89 288.46 L309.23 289.61 L309.57 290.76 L309.91 291.92 L310.25 293.08 L310.59 294.25 L310.93 295.42 L311.27 296.59 L311.61 297.76 L311.95 298.94 L312.29 300.12 L312.63 301.30 L312.97 302.49 L313.31 303.67 L313.65 304.86 L313.99 306.05 L314.33 307.24 L314.67 308.43 L315.01 309.62 L315.35 310.82 L315.69 312.01 L316.03 313.20 L316.37 314.40 L316.71 315.59 L317.05 316.78 L317.39 317.97 L317.73 319.17 L318.07 320.36 L318.41 321.54 L318.75 322.73 L319.09 323.92 L319.43 325.11 L319.77 326.29 L320.10 327.47 L320.44 328.65 L320.78 329.83 L321.12 331.01 L321.46 332.18 L321.80 333.35 L322.14 334.52 L322.48 335.68 L322.82 336.85 L323.16 338.01 L323.50 339.16 L323.84 340.32 L324.18 341.47 L324.52 342.62 L324.86 343.76 L325.20 344.90 L325.54 346.04 L325.88 347.17 L326.22 348.30 L326.56 349.43 L326.90 350.55 L327.24 351.67 L327.58 352.78 L327.92 353.89 L328.26 355.00 L328.60 356.10 L328.94 357.19 L329.28 358.29 L329.62 359.37 L329.96 360.46 L330.30 361.53 L330.64 362.61 L330.98 363.68 L331.32 364.74 L331.66 365.80 L332.00 366.86 L332.34 367.91 L332.68 368.95 L333.02 369.99 L333.36 371.02 L333.70 372.05 L334.04 373.08 L334.38 374.10 L334.72 375.11 L335.06 376.12 L335.40 377.13 L335.74 378.12 L336.08 379.12 L336.42 380.11 L336.76 381.09 L337.10 382.07 L337.44 383.04 L337.78 384.00 L338.12 384.96 L338.46 385.92 L338.80 386.87 L339.14 387.82 L339.48 388.75 L339.82 389.69 L340.16 390.62 L340.50 391.54 L340.84 392.46 L341.18 393.37 L341.52 394.28 L341.86 395.18 L342.20 396.07 L342.54 396.96 L342.88 397.85 L343.22 398.72 L343.56 399.60 L343.90 400.46 L344.24 401.33 L344.58 402.18 L344.92 403.03 L345.26 403.88 L345.60 404.72 L345.94 405.55 L346.28 406.38 L346.62 407.21 L346.96 408.03 L347.30 408.84 L347.64 409.64 L347.98 410.45 L348.32 411.24 L348.66 412.03 L349.00 412.82 L349.34 413.60 L349.68 414.37 L350.02 415.14 L350.36 415.91 L350.69 416.66 L351.03 417.42 L351.37 418.17 L351.71 418.91 L352.05 419.65 L352.39 420.38 L352.73 421.10 L353.07 421.83 L353.41 422.54 L353.75 423.25 L354.09 423.96 L354.43 424.66 L354.77 425.36 L355.11 426.05 L355.45 426.73 L355.79 427.41 L356.13 428.09 L356.47 428.76 L356.81 429.42 L357.15 430.08 L357.49 430.74 L357.83 431.39 L358.17 432.03 L358.51 432.67 L358.85 433.31 L359.19 433.94 L359.53 434.57 L359.87 435.19 L360.21 435.80 L360.55 436.42 L360.89 437.02 L361.23 437.62 L361.57 438.22 L361.91 438.82 L362.25 439.40 L362.59 439.99 L362.93 440.57 L363.27 441.14 L363.61 441.71 L363.95 442.28 L364.29 442.84 L364.63 443.39 L364.97 443.94 L365.31 444.49 L365.65 445.04 L365.99 445.57 L366.33 446.11 L366.67 446.64 L367.01 447.17 L367.35 447.69 L367.69 448.20 L368.03 448.72 L368.37 449.23 L368.71 449.73 L369.05 450.23 L369.39 450.73 L369.73 451.22 L370.07 451.71 L370.41 452.19 L370.75 452.68 L371.09 453.15 L371.43 453.62 L371.77 454.09 L372.11 454.56 L372.45 455.02 L372.79 455.48 L373.13 455.93 L373.47 456.38 L373.81 456.82 L374.15 457.27 L374.49 457.71 L374.83 458.14 L375.17 458.57 L375.51 459.00 L375.85 459.42 L376.19 459.84 L376.53 460.26 L376.87 460.67 L377.21 461.08 L377.55 461.49 L377.89 461.89 L378.23 462.29 L378.57 462.68 L378.91 463.08 L379.25 463.47 L379.59 463.85 L379.93 464.23 L380.27 464.61 L380.61 464.99 L380.95 465.36 L381.28 465.73 L381.62 466.10 L381.96 466.46 L382.30 466.82 L382.64 467.18 L382.98 467.53 L383.32 467.88 L383.66 468.23 L384.00 468.57 L384.34 468.91 L384.68 469.25 L385.02 469.59 L385.36 469.92 L385.70 470.25 L386.04 470.58 L386.38 470.90 L386.72 471.22 L387.06 471.54 L387.40 471.85 L387.74 472.17 L388.08 472.48 L388.42 472.78 L388.76 473.09 L389.10 473.39 L389.44 473.69 L389.78 473.99 L390.12 474.28 L390.46 474.57 L390.80 474.86 L391.14 475.14 L391.48 475.43 L391.82 475.71 L392.16 475.99 L392.50 476.26 L392.84 476.54 L393.18 476.81 L393.52 477.08 L393.86 477.34 L394.20 477.61 L394.54 477.87 L394.88 478.13 L395.22 478.38 L395.56 478.64 L395.90 478.89 L396.24 479.14 L396.58 479.39 L396.92 479.63 L397.26 479.88 L397.60 480.12 L397.94 480.36 L398.28 480.59 L398.62 480.83 L398.96 481.06 L399.30 481.29 L399.64 481.52 L399.98 481.74 L400.32 481.97 L400.66 482.19 L401.00 482.41 L401.34 482.63 L401.68 482.84 L402.02 483.06 L402.36 483.27 L402.70 483.48 L403.04 483.69 L403.38 483.89 L403.72 484.10 L404.06 484.30 L404.40 484.50 L404.74 484.70 L405.08 484.90 L405.42 485.09 L405.76 485.29 L406.10 485.48 L406.44 485.67 L406.78 485.85 L407.12 486.04 L407.46 486.23 L407.80 486.41 L408.14 486.59 L408.48 486.77 L408.82 486.95 L409.16 487.12 L409.50 487.30 L409.84 487.47 L410.18 487.64 L410.52 487.81 L410.86 487.98 L411.20 488.15 L411.54 488.31 L411.87 488.48 L412.21 488.64 L412.55 488.80 L412.89 488.96 L413.23 489.12 L413.57 489.27 L413.91 489.43 L414.25 489.58 L414.59 489.73 L414.93 489.88 L415.27 490.03 L415.61 490.18 L415.95 490.32 L416.29 490.47 L416.63 490.61 L416.97 490.76 L417.31 490.90 L417.65 491.04 L417.99 491.17 L418.33 491.31 L418.67 491.45 L419.01 491.58 L419.35 491.71 L419.69 491.85 L420.03 491.98 L420.37 492.11 L420.71 492.23 L421.05 492.36 L421.39 492.49 L421.73 492.61 L422.07 492.74 L422.41 492.86 L422.75 492.98 L423.09 493.10 L423.43 493.22 L423.77 493.34 L424.11 493.45 L424.45 493.57 L424.79 493.68 L425.13 493.80 L425.47 493.91 L425.81 494.02 L426.15 494.13 L426.49 494.24 L426.83 494.35 L427.17 494.45 L427.51 494.56 L427.85 494.67 L428.19 494.77 L428.53 494.87 L428.87 494.98 L429.21 495.08 L429.55 495.18 L429.89 495.28 L430.23 495.37 L430.57 495.47 L430.91 495.57 L431.25 495.66 L431.59 495.76 L431.93 495.85 L432.27 495.95 L432.61 496.04 L432.95 496.13 L433.29 496.22 L433.63 496.31 L433.97 496.40 L434.31 496.48 L434.65 496.57 L434.99 496.66 L435.33 496.74 L435.67 496.83 L436.01 496.91 L436.35 496.99 L436.69 497.08 L437.03 497.16 L437.37 497.24 L437.71 497.32 L438.05 497.40 L438.39 497.47 L438.73 497.55 L439.07 497.63 L439.41 497.70 L439.75 497.78 L440.09 497.85 L440.43 497.93 L440.77 498.00 L441.11 498.07 L441.45 498.15 L441.79 498.22 L442.13 498.29 L442.46 498.36 L442.80 498.43 L443.14 498.49 L443.48 498.56 L443.82 498.63 L444.16 498.70 L444.50 498.76 L444.84 498.83 L445.18 498.89 L445.52 498.95 L445.86 499.02 L446.20 499.08 L446.54 499.14 L446.88 499.20 L447.22 499.27 L447.56 499.33 L447.90 499.39 L448.24 499.44 L448.58 499.50 L448.92 499.56 L449.26 499.62 L449.60 499.68 L449.94 499.73 L450.28 499.79 L450.62 499.84 L450.96 499.90 L451.30 499.95 L451.64 500.01 L451.98 500.06 L452.32 500.11 L452.66 500.16 L453.00 500.22 L453.34 500.27 L453.68 500.32 L454.02 500.37 L454.36 500.42 L454.70 500.47 L455.04 500.52 L455.38 500.56 L455.72 500.61 L456.06 500.66 L456.40 500.71 L456.74 500.75 L457.08 500.80 L457.42 500.85 L457.76 500.89 L458.10 500.94 L458.44 500.98 L458.78 501.02 L459.12 501.07 L459.46 501.11 L459.80 501.15 L460.14 501.19 L460.48 501.24 L460.82 501.28 L461.16 501.32 L461.50 501.36 L461.84 501.40 L462.18 501.44 L462.52 501.48 L462.86 501.52 L463.20 501.56 L463.54 501.60 L463.88 501.63 L464.22 501.67 L464.56 501.71 L464.90 501.74 L465.24 501.78 L465.58 501.82 L465.92 501.85 L466.26 501.89 L466.60 501.92 L466.94 501.96 L467.28 501.99 L467.62 502.03 L467.96 502.06 L468.30 502.09 L468.64 502.13 L468.98 502.16 L469.32 502.19 L469.66 502.22 L470.00 502.26 L470.34 502.29 L470.68 502.32 L471.02 502.35 L471.36 502.38 L471.70 502.41 L472.04 502.44 L472.38 502.47 L472.72 502.50 L473.05 502.53 L473.39 502.56 L473.73 502.59 L474.07 502.62 L474.41 502.64 L474.75 502.67 L475.09 502.70 L475.43 502.73 L475.77 502.75 L476.11 502.78 L476.45 502.81 L476.79 502.83 L477.13 502.86 L477.47 502.88 L477.81 502.91 L478.15 502.94 L478.49 502.96 L478.83 502.99 L479.17 503.01 L479.51 503.03 L479.85 503.06 L480.19 503.08 L480.53 503.11 L480.87 503.13 L481.21 503.15 L481.55 503.17 L481.89 503.20 L482.23 503.22 L482.57 503.24 L482.91 503.26 L483.25 503.29 L483.59 503.31 L483.93 503.33 L484.27 503.35 L484.61 503.37 L484.95 503.39 L485.29 503.41 L485.63 503.43 L485.97 503.45 L486.31 503.47 L486.65 503.49 L486.99 503.51 L487.33 503.53 L487.67 503.55 L488.01 503.57 L488.35 503.59 L488.69 503.61 L489.03 503.63 L489.37 503.64 L489.71 503.66 L490.05 503.68 L490.39 503.70 L490.73 503.72 L491.07 503.73 L491.41 503.75 L491.75 503.77 L492.09 503.78 L492.43 503.80 L492.77 503.82 L493.11 503.83 L493.45 503.85 L493.79 503.87 L494.13 503.88 L494.47 503.90 L494.81 503.91 L495.15 503.93 L495.49 503.94 L495.83 503.96 L496.17 503.97 L496.51 503.99 L496.85 504.00 L497.19 504.02 L497.53 504.03 L497.87 504.05 L498.21 504.06 L498.55 504.08 L498.89 504.09 L499.23 504.10 L499.57 504.12 L499.91 504.13 L500.25 504.14 L500.59 504.16 L500.93 504.17 L501.27 504.18 L501.61 504.20 L501.95 504.21 L502.29 504.22 L502.63 504.23 L502.97 504.25 L503.31 504.26 L503.64 504.27 L503.98 504.28 L504.32 504.29 L504.66 504.31 L505.00 504.32 L505.34 504.33 L505.68 504.34 L506.02 504.35 L506.36 504.36 L506.70 504.37 L507.04 504.39 L507.38 504.40 L507.72 504.41 L508.06 504.42 L508.40 504.43 L508.74 504.44 L509.08 504.45 L509.42 504.46 L509.76 504.47 L510.10 504.48 L510.44 504.49 L510.78 504.50 L511.12 504.51 L511.46 504.52 L511.80 504.53 L512.14 504.54 L512.48 504.55 L512.82 504.56 L513.16 504.57 L513.50 504.58 L513.84 504.58 L514.18 504.59 L514.52 504.60 L514.86 504.61 L515.20 504.62 L515.54 504.63 L515.88 504.64 L516.22 504.65 L516.56 504.65 L516.90 504.66 L517.24 504.67 L517.58 504.68 L517.92 504.69 L518.26 504.69 L518.60 504.70 L518.94 504.71 L519.28 504.72 L519.62 504.73 L519.96 504.73 L520.30 504.74 L520.64 504.75 L520.98 504.75 L521.32 504.76 L521.66 504.77 L522.00 504.78 L522.34 504.78 L522.68 504.79 L523.02 504.80 L523.36 504.80 L523.70 504.81 L524.04 504.82 L524.38 504.82 L524.72 504.83 L525.06 504.84 L525.40 504.84 L525.74 504.85 L526.08 504.86 L526.42 504.86 L526.76 504.87 L527.10 504.88 L527.44 504.88 L527.78 504.89 L528.12 504.89 L528.46 504.90 L528.80 504.91 L529.14 504.91 L529.48 504.92 L529.82 504.92 L530.16 504.93 L530.50 504.93 L530.84 504.94 L531.18 504.95 L531.52 504.95 L531.86 504.96 L532.20 504.96 L532.54 504.97 L532.88 504.97 L533.22 504.98 L533.56 504.98 L533.90 504.99 L534.23 504.99 L534.57 505.00 L534.91 505.00 L535.25 505.01 L535.59 505.01 L535.93 505.02 L536.27 505.02 L536.61 505.03 L536.95 505.03 L537.29 505.04 L537.63 505.04 L537.97 505.04 L538.31 505.05 L538.65 505.05 L538.99 505.06 L539.33 505.06 L539.67 505.07 L540.01 505.07 L540.35 505.07 L540.69 505.08 L541.03 505.08 L541.37 505.09 L541.71 505.09 L542.05 505.09 L542.39 505.10 L542.73 505.10 L543.07 505.11 L543.41 505.11 L543.75 505.11 L544.09 505.12 L544.43 505.12 L544.77 505.13 L545.11 505.13 L545.45 505.13 L545.79 505.14 L546.13 505.14 L546.47 505.14 L546.81 505.15 L547.15 505.15 L547.49 505.15 L547.83 505.16 L548.17 505.16 L548.51 505.16 L548.85 505.17 L549.19 505.17 L549.53 505.17 L549.87 505.18 L550.21 505.18 L550.55 505.18 L550.89 505.19 L551.23 505.19 L551.57 505.19 L551.91 505.20 L552.25 505.20 L552.59 505.20 L552.93 505.20 L553.27 505.21 L553.61 505.21 L553.95 505.21 L554.29 505.22 L554.63 505.22 L554.97 505.22 L555.31 505.22 L555.65 505.23 L555.99 505.23 L556.33 505.23 L556.67 505.23 L557.01 505.24 L557.35 505.24 L557.69 505.24 L558.03 505.24 L558.37 505.25 L558.71 505.25 L559.05 505.25 L559.39 505.25 L559.73 505.26 L560.07 505.26 L560.41 505.26 L560.75 505.26 L561.09 505.27 L561.43 505.27 L561.77 505.27 L562.11 505.27 L562.45 505.28 L562.79 505.28 L563.13 505.28 L563.47 505.28 L563.81 505.28 L564.15 505.29 L564.49 505.29 L564.82 505.29 L565.16 505.29 L565.50 505.29 L565.84 505.30 L566.18 505.30 L566.52 505.30 L566.86 505.30 L567.20 505.30 L567.54 505.31 L567.88 505.31 L568.22 505.31 L568.56 505.31 L568.90 505.31 L569.24 505.32 L569.58 505.32 L569.92 505.32 L570.26 505.32 L570.60 505.32 L570.94 505.32 L571.28 505.33 L571.62 505.33 L571.96 505.33 L572.30 505.33 L572.64 505.33 L572.98 505.33 L573.32 505.34 L573.66 505.34 L574.00 505.34 L574.34 505.34 L574.68 505.34 L575.02 505.34 L575.36 505.35 L575.70 505.35 L576.04 505.35 L576.38 505.35 L576.72 505.35 L577.06 505.35 L577.40 505.35 L577.74 505.36 L578.08 505.36 L578.42 505.36 L578.76 505.36 L579.10 505.36 L579.44 505.36 L579.78 505.36 L580.12 505.37 L580.46 505.37 L580.80 505.37 L581.14 505.37 L581.48 505.37 L581.82 505.37 L582.16 505.37 L582.50 505.37 L582.84 505.38 L583.18 505.38 L583.52 505.38 L583.86 505.38 L584.20 505.38 L584.54 505.38 L584.88 505.38 L585.22 505.38 L585.56 505.39 L585.90 505.39 L586.24 505.39 L586.58 505.39 L586.92 505.39 L587.26 505.39 L587.60 505.39 L587.94 505.39 L588.28 505.39 L588.62 505.39 L588.96 505.40 L589.30 505.40 L589.64 505.40 L589.98 505.40 L590.32 505.40 L590.66 505.40 L591.00 505.40 L591.34 505.40 L591.68 505.40 L592.02 505.40 L592.36 505.41 L592.70 505.41 L593.04 505.41 L593.38 505.41 L593.72 505.41 L594.06 505.41 L594.40 505.41 L594.74 505.41 L595.08 505.41 L595.41 505.41 L595.75 505.41 L596.09 505.42 L596.43 505.42 L596.77 505.42 L597.11 505.42 L597.45 505.42 L597.79 505.42 L598.13 505.42 L598.47 505.42 L598.81 505.42 L599.15 505.42 L599.49 505.42 L599.83 505.42 L600.17 505.42 L600.51 505.43 L600.85 505.43 L601.19 505.43 L601.53 505.43 L601.87 505.43 L602.21 505.43 L602.55 505.43 L602.89 505.43 L603.23 505.43 L603.57 505.43 L603.91 505.43 L604.25 505.43 L604.59 505.43 L604.93 505.43 L605.27 505.44 L605.61 505.44 L605.95 505.44 L606.29 505.44 L606.63 505.44 L606.97 505.44 L607.31 505.44 L607.65 505.44 L607.99 505.44 L608.33 505.44 L608.67 505.44 L609.01 505.44 L609.35 505.44 L609.69 505.44 L610.03 505.44 L610.37 505.44 L610.71 505.44 L611.05 505.45 L611.39 505.45 L611.73 505.45 L612.07 505.45 L612.41 505.45 L612.75 505.45 L613.09 505.45 L613.43 505.45 L613.77 505.45 L614.11 505.45 L614.45 505.45 L614.79 505.45 L615.13 505.45 L615.47 505.45 L615.81 505.45 L616.15 505.45 L616.49 505.45 L616.83 505.45 L617.17 505.45 L617.51 505.45 L617.85 505.45 L618.19 505.46 L618.53 505.46 L618.87 505.46 L619.21 505.46 L619.55 505.46 L619.89 505.46 L620.23 505.46 L620.57 505.46 L620.91 505.46 L621.25 505.46 L621.59 505.46 L621.93 505.46 L622.27 505.46 L622.61 505.46 L622.95 505.46 L623.29 505.46 L623.63 505.46 L623.97 505.46 L624.31 505.46 L624.65 505.46 L624.99 505.46 L625.33 505.46 L625.67 505.46 L626.00 505.46 L626.34 505.46 L626.68 505.47 L627.02 505.47 L627.36 505.47 L627.70 505.47 L628.04 505.47 L628.38 505.47 L628.72 505.47 L629.06 505.47 L629.40 505.47 L629.74 505.47 L630.08 505.47 L630.42 505.47 L630.76 505.47 L631.10 505.47 L631.44 505.47 L631.78 505.47 L632.12 505.47 L632.46 505.47 L632.80 505.47 L633.14 505.47 L633.48 505.47 L633.82 505.47 L634.16 505.47 L634.50 505.47 L634.84 505.47 L635.18 505.47 L635.52 505.47 L635.86 505.47 L636.20 505.47 L636.54 505.47 L636.88 505.47 L637.22 505.47 L637.56 505.47 L637.90 505.47 L638.24 505.48 L638.58 505.48 L638.92 505.48 L639.26 505.48 L639.60 505.48 L639.94 505.48 L640.28 505.48 L640.62 505.48 L640.96 505.48 L641.30 505.48" stroke="#ff0000"/>
<path d="M29.50 505.50 L29.84 505.50 L30.18 505.50 L30.52 505.50 L30.86 505.50 L31.20 505.50 L31.54 505.50 L31.88 505.50 L32.22 505.50 L32.56 505.50 L32.90 505.50 L33.24 505.50 L33.58 505.50 L33.92 505.50 L34.26 505.50 L34.60 505.50 L34.94 505.50 L35.28 505.50 L35.62 505.50 L35.96 505.50 L36.30 505.50 L36.64 505.50 L36.98 505.50 L37.32 505.50 L37.66 505.50 L38.00 505.50 L38.34 505.50 L38.68 505.50 L39.02 505.50 L39.36 505.50 L39.70 505.50 L40.04 505.50 L40.38 505.50 L40.72 505.50 L41.06 505.50 L41.40 505.50 L41.74 505.50 L42.08 505.50 L42.42 505.50 L42.76 505.50 L43.10 505.50 L43.44 505.50 L43.78 505.50 L44.12 505.50 L44.46 505.50 L44.80 505.50 L45.13 505.50 L45.47 505.50 L45.81 505.50 L46.15 505.50 L46.49 505.50 L46.83 505.50 L47.17 505.50 L47.51 505.50 L47.85 505.50 L48.19 505.50 L48.53 505.50 L48.87 505.50 L49.21 505.50 L49.55 505.50 L49.89 505.50 L50.23 505.50 L50.57 505.50 L50.91 505.50 L51.25 505.50 L51.59 505.50 L51.93 505.50 L52.27 505.50 L52.61 505.50 L52.95 505.50 L53.29 505.50 L53.63 505.50 L53.97 505.50 L54.31 505.50 L54.65 505.50 L54.99 505.50 L55.33 505.50 L55.67 505.50 L56.01 505.50 L56.35 505.50 L56.69 505.50 L57.03 505.50 L57.37 505.50 L57.71 505.50 L58.05 505.50 L58.39 505.50 L58.73 505.50 L59.07 505.50 L59.41 505.50 L59.75 505.50 L60.09 505.50 L60.43 505.50 L60.77 505.50 L61.11 505.50 L61.45 505.50 L61.79 505.50 L62.13 505.50 L62.47 505.50 L62.81 505.50 L63.15 505.50 L63.49 505.50 L63.83 505.50 L64.17 505.50 L64.51 505.50 L64.85 505.50 L65.19 505.50 L65.53 505.50 L65.87 505.50 L66.21 505.50 L66.55 505.50 L66.89 505.50 L67.23 505.50 L67.57 505.50 L67.91 505.50 L68.25 505.50 L68.59 505.50 L68.93 505.50 L69.27 505.50 L69.61 505.50 L69.95 505.50 L70.29 505.50 L70.63 505.50 L70.97 505.50 L71.31 505.50 L71.65 505.50 L71.99 505.50 L72.33 505.50 L72.67 505.50 L73.01 505.50 L73.35 505.50 L73.69 505.50 L74.03 505.50 L74.37 505.50 L74.71 505.50 L75.05 505.50 L75.38 505.50 L75.72 505.50 L76.06 505.50 L76.40 505.50 L76.74 505.50 L77.08 505.50 L77.42 505.50 L77.76 505.50 L78.10 505.50 L78.44 505.50 L78.78 505.50 L79.12 505.50 L79.46 505.50 L79.80 505.50 L80.14 505.50 L80.48 505.50 L80.82 505.50 L81.16 505.50 L81.50 505.50 L81.84 505.50 L82.18 505.50 L82.52 505.50 L82.86 505.50 L83.20 505.50 L83.54 505.50 L83.88 505.50 L84.22 505.50 L84.56 505.50 L84.90 505.50 L85.24 505.50 L85.58 505.50 L85.92 505.50 L86.26 505.50 L86.60 505.50 L86.94 505.50 L87.28 505.50 L87.62 505.50 L87.96 505.50 L88.30 505.50 L88.64 505.50 L88.98 505.50 L89.32 505.50 L89.66 505.50 L90.00 505.50 L90.34 505.50 L90.68 505.50 L91.02 505.50 L91.36 505.50 L91.70 505.50 L92.04 505.50 L92.38 505.50 L92.72 505.50 L93.06 505.50 L93.40 505.50 L93.74 505.50 L94.08 505.50 L94.42 505.50 L94.76 505.50 L95.10 505.50 L95.44 505.50 L95.78 505.50 L96.12 505.50 L96.46 505.50 L96.80 505.50 L97.14 505.50 L97.48 505.50 L97.82 505.50 L98.16 505.50 L98.50 505.50 L98.84 505.50 L99.18 505.50 L99.52 505.50 L99.86 505.50 L100.20 505.50 L100.54 505.50 L100.88 505.50 L101.22 505.50 L101.56 505.50 L101.90 505.50 L102.24 505.50 L102.58 505.50 L102.92 505.50 L103.26 505.50 L103.60 505.50 L103.94 505.50 L104.28 505.50 L104.62 505.50 L104.96 505.50 L105.30 505.50 L105.64 505.50 L105.97 505.50 L106.31 505.50 L106.65 505.50 L106.99 505.50 L107.33 505.50 L107.67 505.50 L108.01 505.50 L108.35 505.50 L108.69 505.50 L109.03 505.50 L109.37 505.50 L109.71 505.50 L110.05 505.50 L110.39 505.50 L110.73 505.50 L111.07 505.50 L111.41 505.50 L111.75 505.50 L112.09 505.50 L112.43 505.50 L112.77 505.50 L113.11 505.50 L113.45 505.50 L113.79 505.50 L114.13 505.50 L114.47 505.50 L114.81 505.50 L115.15 505.50 L115.49 505.50 L115.83 505.50 L116.17 505.50 L116.51 505.50 L116.85 505.50 L117.19 505.50 L117.53 505.50 L117.87 505.50 L118.21 505.50 L118.55 505.50 L118.89 505.50 L119.23 505.50 L119.57 505.49 L119.91 505.49 L120.25 505.49 L120.59 505.49 L120.93 505.49 L121.27 505.49 L121.61 505.49 L121.95 505.49 L122.29 505.49 L122.63 505.49 L122.97 505.49 L123.31 505.49 L123.65 505.49 L123.99 505.49 L124.33 505.49 L124.67 505.49 L125.01 505.49 L125.35 505.49 L125.69 505.49 L126.03 505.49 L126.37 505.49 L126.71 505.49 L127.05 505.49 L127.39 505.49 L127.73 505.49 L128.07 505.49 L128.41 505.49 L128.75 505.49 L129.09 505.49 L129.43 505.49 L129.77 505.49 L130.11 505.49 L130.45 505.49 L130.79 505.49 L131.13 505.49 L131.47 505.49 L131.81 505.49 L132.15 505.49 L132.49 505.49 L132.83 505.49 L133.17 505.49 L133.51 505.49 L133.85 505.49 L134.19 505.49 L134.53 505.49 L134.87 505.48 L135.21 505.48 L135.55 505.48 L135.89 505.48 L136.23 505.48 L136.56 505.48 L136.90 505.48 L137.24 505.48 L137.58 505.48 L137.92 505.48 L138.26 505.48 L138.60 505.48 L138.94 505.48 L139.28 505.48 L139.62 505.48 L139.96 505.48 L140.30 505.48 L140.64 505.48 L140.98 505.48 L141.32 505.48 L141.66 505.48 L142.00 505.47 L142.34 505.47 L142.68 505.47 L143.02 505.47 L143.36 505.47 L143.70 505.47 L144.04 505.47 L144.38 505.47 L144.72 505.47 L145.06 505.47 L145.40 505.47 L145.74 505.47 L146.08 505.47 L146.42 505.46 L146.76 505.46 L147.10 505.46 L147.44 505.46 L147.78 505.46 L148.12 505.46 L148.46 505.46 L148.80 505.46 L149.14 505.46 L149.48 505.46 L149.82 505.46 L150.16 505.45 L150.50 505.45 L150.84 505.45 L151.18 505.45 L151.52 505.45 L151.86 505.45 L152.20 505.45 L152.54 505.45 L152.88 505.44 L153.22 505.44 L153.56 505.44 L153.90 505.44 L154.24 505.44 L154.58 505.44 L154.92 505.44 L155.26 505.43 L155.60 505.43 L155.94 505.43 L156.28 505.43 L156.62 505.43 L156.96 505.43 L157.30 505.42 L157.64 505.42 L157.98 505.42 L158.32 505.42 L158.66 505.42 L159.00 505.41 L159.34 505.41 L159.68 505.41 L160.02 505.41 L160.36 505.40 L160.70 505.40 L161.04 505.40 L161.38 505.40 L161.72 505.40 L162.06 505.39 L162.40 505.39 L162.74 505.39 L163.08 505.38 L163.42 505.38 L163.76 505.38 L164.10 505.38 L164.44 505.37 L164.78 505.37 L165.12 505.37 L165.46 505.36 L165.80 505.36 L166.14 505.36 L166.48 505.35 L166.82 505.35 L167.16 505.35 L167.49 505.34 L167.83 505.34 L168.17 505.33 L168.51 505.33 L168.85 505.32 L169.19 505.32 L169.53 505.32 L169.87 505.31 L170.21 505.31 L170.55 505.30 L170.89 505.30 L171.23 505.29 L171.57 505.29 L171.91 505.28 L172.25 505.28 L172.59 505.27 L172.93 505.27 L173.27 505.26 L173.61 505.25 L173.95 505.25 L174.29 505.24 L174.63 505.24 L174.97 505.23 L175.31 505.22 L175.65 505.22 L175.99 505.21 L176.33 505.20 L176.67 505.19 L177.01 505.19 L177.35 505.18 L177.69 505.17 L178.03 505.16 L178.37 505.15 L178.71 505.15 L179.05 505.14 L179.39 505.13 L179.73 505.12 L180.07 505.11 L180.41 505.10 L180.75 505.09 L181.09 505.08 L181.43 505.07 L181.77 505.06 L182.11 505.05 L182.45 505.04 L182.79 505.03 L183.13 505.01 L183.47 505.00 L183.81 504.99 L184.15 504.98 L184.49 504.96 L184.83 504.95 L185.17 504.94 L185.51 504.92 L185.85 504.91 L186.19 504.90 L186.53 504.88 L186.87 504.87 L187.21 504.85 L187.55 504.83 L187.89 504.82 L188.23 504.80 L188.57 504.78 L188.91 504.77 L189.25 504.75 L189.59 504.73 L189.93 504.71 L190.27 504.69 L190.61 504.67 L190.95 504.65 L191.29 504.63 L191.63 504.61 L191.97 504.59 L192.31 504.57 L192.65 504.54 L192.99 504.52 L193.33 504.49 L193.67 504.47 L194.01 504.44 L194.35 504.42 L194.69 504.39 L195.03 504.37 L195.37 504.34 L195.71 504.31 L196.05 504.28 L196.39 504.25 L196.73 504.22 L197.07 504.19 L197.41 504.16 L197.74 504.12 L198.08 504.09 L198.42 504.06 L198.76 504.02 L199.10 503.98 L199.44 503.95 L199.78 503.91 L200.12 503.87 L200.46 503.83 L200.80 503.79 L201.14 503.75 L201.48 503.71 L201.82 503.66 L202.16 503.62 L202.50 503.57 L202.84 503.53 L203.18 503.48 L203.52 503.43 L203.86 503.38 L204.20 503.33 L204.54 503.27 L204.88 503.22 L205.22 503.17 L205.56 503.11 L205.90 503.05 L206.24 502.99 L206.58 502.93 L206.92 502.87 L207.26 502.81 L207.60 502.74 L207.94 502.67 L208.28 502.61 L208.62 502.54 L208.96 502.46 L209.30 502.39 L209.64 502.32 L209.98 502.24 L210.32 502.16 L210.66 502.08 L211.00 502.00 L211.34 501.92 L211.68 501.83 L212.02 501.74 L212.36 501.65 L212.70 501.56 L213.04 501.47 L213.38 501.37 L213.72 501.27 L214.06 501.17 L214.40 501.07 L214.74 500.96 L215.08 500.85 L215.42 500.74 L215.76 500.63 L216.10 500.52 L216.44 500.40 L216.78 500.28 L217.12 500.15 L217.46 500.03 L217.80 499.90 L218.14 499.77 L218.48 499.63 L218.82 499.49 L219.16 499.35 L219.50 499.21 L219.84 499.06 L220.18 498.91 L220.52 498.76 L220.86 498.60 L221.20 498.44 L221.54 498.27 L221.88 498.11 L222.22 497.93 L222.56 497.76 L222.90 497.58 L223.24 497.40 L223.58 497.21 L223.92 497.02 L224.26 496.82 L224.60 496.63 L224.94 496.42 L225.28 496.21 L225.62 496.00 L225.96 495.79 L226.30 495.57 L226.64 495.34 L226.98 495.11 L227.32 494.87 L227.66 494.64 L228.00 494.39 L228.33 494.14 L228.67 493.89 L229.01 493.63 L229.35 493.36 L229.69 493.09 L230.03 492.82 L230.37 492.54 L230.71 492.25 L231.05 491.96 L231.39 491.66 L231.73 491.36 L232.07 491.05 L232.41 490.73 L232.75 490.41 L233.09 490.09 L233.43 489.75 L233.77 489.41 L234.11 489.07 L234.45 488.72 L234.79 488.36 L235.13 488.00 L235.47 487.63 L235.81 487.25 L236.15 486.87 L236.49 486.48 L236.83 486.08 L237.17 485.68 L237.51 485.27 L237.85 484.85 L238.19 484.43 L238.53 483.99 L238.87 483.56 L239.21 483.11 L239.55 482.66 L239.89 482.20 L240.23 481.74 L240.57 481.27 L240.91 480.79 L241.25 480.30 L241.59 479.81 L241.93 479.31 L242.27 478.80 L242.61 478.29 L242.95 477.76 L243.29 477.24 L243.63 476.70 L243.97 476.16 L244.31 475.61 L244.65 475.05 L244.99 474.49 L245.33 473.92 L245.67 473.35 L246.01 472.76 L246.35 472.17 L246.69 471.58 L247.03 470.98 L247.37 470.37 L247.71 469.76 L248.05 469.14 L248.39 468.51 L248.73 467.88 L249.07 467.24 L249.41 466.60 L249.75 465.95 L250.09 465.30 L250.43 464.64 L250.77 463.98 L251.11 463.31 L251.45 462.64 L251.79 461.96 L252.13 461.28 L252.47 460.59 L252.81 459.91 L253.15 459.21 L253.49 458.52 L253.83 457.82 L254.17 457.12 L254.51 456.41 L254.85 455.71 L255.19 455.00 L255.53 454.29 L255.87 453.58 L256.21 452.87 L256.55 452.15 L256.89 451.44 L257.23 450.72 L257.57 450.01 L257.91 449.29 L258.25 448.58 L258.59 447.86 L258.92 447.15 L259.26 446.44 L259.60 445.73 L259.94 445.02 L260.28 444.31 L260.62 443.61 L260.96 442.91 L261.30 442.21 L261.64 441.52 L261.98 440.83 L262.32 440.14 L262.66 439.46 L263.00 438.78 L263.34 438.11 L263.68 437.45 L264.02 436.78 L264.36 436.13 L264.70 435.48 L265.04 434.84 L265.38 434.20 L265.72 433.57 L266.06 432.95 L266.40 432.34 L266.74 431.73 L267.08 431.13 L267.42 430.55 L267.76 429.96 L268.10 429.39 L268.44 428.83 L268.78 428.28 L269.12 427.73 L269.46 427.20 L269.80 426.68 L270.14 426.16 L270.48 425.66 L270.82 425.17 L271.16 424.68 L271.50 424.21 L271.84 423.75 L272.18 423.30 L272.52 422.87 L272.86 422.44 L273.20 422.03 L273.54 421.62 L273.88 421.23 L274.22 420.85 L274.56 420.49 L274.90 420.13 L275.24 419.79 L275.58 419.46 L275.92 419.14 L276.26 418.84 L276.60 418.54 L276.94 418.26 L277.28 418.00 L277.62 417.74 L277.96 417.50 L278.30 417.27 L278.64 417.05 L278.98 416.84 L279.32 416.65 L279.66 416.47 L280.00 416.30 L280.34 416.15 L280.68 416.00 L281.02 415.87 L281.36 415.75 L281.70 415.65 L282.04 415.55 L282.38 415.47 L282.72 415.40 L283.06 415.34 L283.40 415.29 L283.74 415.25 L284.08 415.23 L284.42 415.22 L284.76 415.21 L285.10 415.22 L285.44 415.24 L285.78 415.28 L286.12 415.32 L286.46 415.37 L286.80 415.43 L287.14 415.51 L287.48 415.59 L287.82 415.68 L288.16 415.79 L288.50 415.90 L288.84 416.03 L289.18 416.16 L289.51 416.30 L289.85 416.45 L290.19 416.61 L290.53 416.78 L290.87 416.96 L291.21 417.14 L291.55 417.34 L291.89 417.54 L292.23 417.75 L292.57 417.97 L292.91 418.20 L293.25 418.43 L293.59 418.68 L293.93 418.92 L294.27 419.18 L294.61 419.44 L294.95 419.71 L295.29 419.99 L295.63 420.27 L295.97 420.56 L296.31 420.86 L296.65 421.16 L296.99 421.47 L297.33 421.78 L297.67 422.10 L298.01 422.42 L298.35 422.75 L298.69 423.08 L299.03 423.42 L299.37 423.77 L299.71 424.11 L300.05 424.47 L300.39 424.82 L300.73 425.18 L301.07 425.55 L301.41 425.92 L301.75 426.29 L302.09 426.67 L302.43 427.05 L302.77 427.43 L303.11 427.82 L303.45 428.21 L303.79 428.60 L304.13 428.99 L304.47 429.39 L304.81 429.79 L305.15 430.19 L305.49 430.60 L305.83 431.01 L306.17 431.42 L306.51 431.83 L306.85 432.24 L307.19 432.66 L307.53 433.07 L307.87 433.49 L308.21 433.91 L308.55 434.34 L308.89 434.76 L309.23 435.18 L309.57 435.61 L309.91 436.03 L310.25 436.46 L310.59 436.89 L310.93 437.32 L311.27 437.74 L311.61 438.17 L311.95 438.60 L312.29 439.03 L312.63 439.47 L312.97 439.90 L313.31 440.33 L313.65 440.76 L313.99 441.19 L314.33 441.62 L314.67 442.05 L315.01 442.48 L315.35 442.91 L315.69 443.34 L316.03 443.77 L316.37 444.20 L316.71 444.63 L317.05 445.06 L317.39 445.48 L317.73 445.91 L318.07 446.34 L318.41 446.76 L318.75 447.19 L319.09 447.61 L319.43 448.03 L319.77 448.45 L320.10 448.87 L320.44 449.29 L320.78 449.71 L321.12 450.13 L321.46 450.54 L321.80 450.96 L322.14 451.37 L322.48 451.78 L322.82 452.19 L323.16 452.60 L323.50 453.01 L323.84 453.41 L324.18 453.82 L324.52 454.22 L324.86 454.62 L325.20 455.02 L325.54 455.42 L325.88 455.81 L326.22 456.21 L326.56 456.60 L326.90 456.99 L327.24 457.38 L327.58 457.77 L327.92 458.16 L328.26 458.54 L328.60 458.92 L328.94 459.30 L329.28 459.68 L329.62 460.06 L329.96 460.43 L330.30 460.80 L330.64 461.17 L330.98 461.54 L331.32 461.91 L331.66 462.27 L332.00 462.63 L332.34 462.99 L332.68 463.35 L333.02 463.71 L333.36 464.06 L333.70 464.42 L334.04 464.77 L334.38 465.11 L334.72 465.46 L335.06 465.80 L335.40 466.15 L335.74 466.49 L336.08 466.82 L336.42 467.16 L336.76 467.49 L337.10 467.82 L337.44 468.15 L337.78 468.48 L338.12 468.80 L338.46 469.13 L338.80 469.45 L339.14 469.77 L339.48 470.08 L339.82 470.40 L340.16 470.71 L340.50 471.02 L340.84 471.33 L341.18 471.63 L341.52 471.94 L341.86 472.24 L342.20 472.54 L342.54 472.83 L342.88 473.13 L343.22 473.42 L343.56 473.71 L343.90 474.00 L344.24 474.29 L344.58 474.57 L344.92 474.86 L345.26 475.14 L345.60 475.41 L345.94 475.69 L346.28 475.96 L346.62 476.24 L346.96 476.51 L347.30 476.77 L347.64 477.04 L347.98 477.30 L348.32 477.57 L348.66 477.83 L349.00 478.08 L349.34 478.34 L349.68 478.59 L350.02 478.85 L350.36 479.10 L350.69 479.34 L351.03 479.59 L351.37 479.83 L351.71 480.07 L352.05 480.31 L352.39 480.55 L352.73 480.79 L353.07 481.02 L353.41 481.26 L353.75 481.49 L354.09 481.71 L354.43 481.94 L354.77 482.17 L355.11 482.39 L355.45 482.61 L355.79 482.83 L356.13 483.05 L356.47 483.26 L356.81 483.48 L357.15 483.69 L357.49 483.90 L357.83 484.11 L358.17 484.31 L358.51 484.52 L358.85 484.72 L359.19 484.92 L359.53 485.12 L359.87 485.32 L360.21 485.52 L360.55 485.71 L360.89 485.90 L361.23 486.09 L361.57 486.28 L361.91 486.47 L362.25 486.66 L362.59 486.84 L362.93 487.03 L363.27 487.21 L363.61 487.39 L363.95 487.56 L364.29 487.74 L364.63 487.92 L364.97 488.09 L365.31 488.26 L365.65 488.43 L365.99 488.60 L366.33 488.77 L366.67 488.93 L367.01 489.10 L367.35 489.26 L367.69 489.42 L368.03 489.58 L368.37 489.74 L368.71 489.90 L369.05 490.05 L369.39 490.21 L369.73 490.36 L370.07 490.51 L370.41 490.66 L370.75 490.81 L371.09 490.96 L371.43 491.10 L371.77 491.25 L372.11 491.39 L372.45 491.53 L372.79 491.67 L373.13 491.81 L373.47 491.95 L373.81 492.08 L374.15 492.22 L374.49 492.35 L374.83 492.49 L375.17 492.62 L375.51 492.75 L375.85 492.88 L376.19 493.00 L376.53 493.13 L376.87 493.26 L377.21 493.38 L377.55 493.50 L377.89 493.63 L378.23 493.75 L378.57 493.87 L378.91 493.98 L379.25 494.10 L379.59 494.22 L379.93 494.33 L380.27 494.45 L380.61 494.56 L380.95 494.67 L381.28 494.78 L381.62 494.89 L381.96 495.00 L382.30 495.11 L382.64 495.21 L382.98 495.32 L383.32 495.42 L383.66 495.53 L384.00 495.63 L384.34 495.73 L384.68 495.83 L385.02 495.93 L385.36 496.03 L385.70 496.13 L386.04 496.22 L386.38 496.32 L386.72 496.41 L387.06 496.51 L387.40 496.60 L387.74 496.69 L388.08 496.78 L388.42 496.87 L388.76 496.96 L389.10 497.05 L389.44 497.14 L389.78 497.23 L390.12 497.31 L390.46 497.40 L390.80 497.48 L391.14 497.56 L391.48 497.65 L391.82 497.73 L392.16 497.81 L392.50 497.89 L392.84 497.97 L393.18 498.05 L393.52 498.12 L393.86 498.20 L394.20 498.28 L394.54 498.35 L394.88 498.43 L395.22 498.50 L395.56 498.57 L395.90 498.65 L396.24 498.72 L396.58 498.79 L396.92 498.86 L397.26 498.93 L397.60 499.00 L397.94 499.06 L398.28 499.13 L398.62 499.20 L398.96 499.26 L399.30 499.33 L399.64 499.39 L399.98 499.46 L400.32 499.52 L400.66 499.59 L401.00 499.65 L401.34 499.71 L401.68 499.77 L402.02 499.83 L402.36 499.89 L402.70 499.95 L403.04 500.01 L403.38 500.06 L403.72 500.12 L404.06 500.18 L404.40 500.23 L404.74 500.29 L405.08 500.35 L405.42 500.40 L405.76 500.45 L406.10 500.51 L406.44 500.56 L406.78 500.61 L407.12 500.66 L407.46 500.71 L407.80 500.76 L408.14 500.82 L408.48 500.86 L408.82 500.91 L409.16 500.96 L409.50 501.01 L409.84 501.06 L410.18 501.10 L410.52 501.15 L410.86 501.20 L411.20 501.24 L411.54 501.29 L411.87 501.33 L412.21 501.38 L412.55 501.42 L412.89 501.46 L413.23 501.51 L413.57 501.55 L413.91 501.59 L414.25 501.63 L414.59 501.67 L414.93 501.71 L415.27 501.76 L415.61 501.80 L415.95 501.83 L416.29 501.87 L416.63 501.91 L416.97 501.95 L417.31 501.99 L417.65 502.03 L417.99 502.06 L418.33 502.10 L418.67 502.14 L419.01 502.17 L419.35 502.21 L419.69 502.24 L420.03 502.28 L420.37 502.31 L420.71 502.35 L421.05 502.38 L421.39 502.41 L421.73 502.45 L422.07 502.48 L422.41 502.51 L422.75 502.54 L423.09 502.57 L423.43 502.61 L423.77 502.64 L424.11 502.67 L424.45 502.70 L424.79 502.73 L425.13 502.76 L425.47 502.79 L425.81 502.82 L426.15 502.84 L426.49 502.87 L426.83 502.90 L427.17 502.93 L427.51 502.96 L427.85 502.98 L428.19 503.01 L428.53 503.04 L428.87 503.06 L429.21 503.09 L429.55 503.12 L429.89 503.14 L430.23 503.17 L430.57 503.19 L430.91 503.22 L431.25 503.24 L431.59 503.27 L431.93 503.29 L432.27 503.31 L432.61 503.34 L432.95 503.36 L433.29 503.38 L433.63 503.41 L433.97 503.43 L434.31 503.45 L434.65 503.47 L434.99 503.49 L435.33 503.52 L435.67 503.54 L436.01 503.56 L436.35 503.58 L436.69 503.60 L437.03 503.62 L437.37 503.64 L437.71 503.66 L438.05 503.68 L438.39 503.70 L438.73 503.72 L439.07 503.74 L439.41 503.76 L439.75 503.78 L440.09 503.79 L440.43 503.81 L440.77 503.83 L441.11 503.85 L441.45 503.87 L441.79 503.88 L442.13 503.90 L442.46 503.92 L442.80 503.94 L443.14 503.95 L443.48 503.97 L443.82 503.99 L444.16 504.00 L444.50 504.02 L444.84 504.04 L445.18 504.05 L445.52 504.07 L445.86 504.08 L446.20 504.10 L446.54 504.11 L446.88 504.13 L447.22 504.14 L447.56 504.16 L447.90 504.17 L448.24 504.19 L448.58 504.20 L448.92 504.21 L449.26 504.23 L449.60 504.24 L449.94 504.26 L450.28 504.27 L450.62 504.28 L450.96 504.30 L451.30 504.31 L451.64 504.32 L451.98 504.33 L452.32 504.35 L452.66 504.36 L453.00 504.37 L453.34 504.38 L453.68 504.40 L454.02 504.41 L454.36 504.42 L454.70 504.43 L455.04 504.44 L455.38 504.45 L455.72 504.47 L456.06 504.48 L456.40 504.49 L456.74 504.50 L457.08 504.51 L457.42 504.52 L457.76 504.53 L458.10 504.54 L458.44 504.55 L458.78 504.56 L459.12 504.57 L459.46 504.58 L459.80 504.59 L460.14 504.60 L460.48 504.61 L460.82 504.62 L461.16 504.63 L461.50 504.64 L461.84 504.65 L462.18 504.66 L462.52 504.67 L462.86 504.68 L463.20 504.69 L463.54 504.70 L463.88 504.70 L464.22 504.71 L464.56 504.72 L464.90 504.73 L465.24 504.74 L465.58 504.75 L465.92 504.75 L466.26 504.76 L466.60 504.77 L466.94 504.78 L467.28 504.79 L467.62 504.79 L467.96 504.80 L468.30 504.81 L468.64 504.82 L468.98 504.82 L469.32 504.83 L469.66 504.84 L470.00 504.85 L470.34 504.85 L470.68 504.86 L471.02 504.87 L471.36 504.87 L471.70 504.88 L472.04 504.89 L472.38 504.89 L472.72 504.90 L473.05 504.91 L473.39 504.91 L473.73 504.92 L474.07 504.93 L474.41 504.93 L474.75 504.94 L475.09 504.95 L475.43 504.95 L475.77 504.96 L476.11 504.96 L476.45 504.97 L476.79 504.98 L477.13 504.98 L477.47 504.99 L477.81 504.99 L478.15 505.00 L478.49 505.00 L478.83 505.01 L479.17 505.01 L479.51 505.02 L479.85 505.02 L480.19 505.03 L480.53 505.03 L480.87 505.04 L481.21 505.04 L481.55 505.05 L481.89 505.05 L482.23 505.06 L482.57 505.06 L482.91 505.07 L483.25 505.07 L483.59 505.08 L483.93 505.08 L484.27 505.09 L484.61 505.09 L484.95 505.10 L485.29 505.10 L485.63 505.11 L485.97 505.11 L486.31 505.11 L486.65 505.12 L486.99 505.12 L487.33 505.13 L487.67 505.13 L488.01 505.13 L488.35 505.14 L488.69 505.14 L489.03 505.15 L489.37 505.15 L489.71 505.15 L490.05 505.16 L490.39 505.16 L490.73 505.17 L491.07 505.17 L491.41 505.17 L491.75 505.18 L492.09 505.18 L492.43 505.18 L492.77 505.19 L493.11 505.19 L493.45 505.19 L493.79 505.20 L494.13 505.20 L494.47 505.20 L494.81 505.21 L495.15 505.21 L495.49 505.21 L495.83 505.22 L496.17 505.22 L496.51 505.22 L496.85 505.23 L497.19 505.23 L497.53 505.23 L497.87 505.23 L498.21 505.24 L498.55 505.24 L498.89 505.24 L499.23 505.25 L499.57 505.25 L499.91 505.25 L500.25 505.25 L500.59 505.26 L500.93 505.26 L501.27 505.26 L501.61 505.26 L501.95 505.27 L502.29 505.27 L502.63 505.27 L502.97 505.27 L503.31 505.28 L503.64 505.28 L503.98 505.28 L504.32 505.28 L504.66 505.29 L505.00 505.29 L505.34 505.29 L505.68 505.29 L506.02 505.30 L506.36 505.30 L506.70 505.30 L507.04 505.30 L507.38 505.30 L507.72 505.31 L508.06 505.31 L508.40 505.31 L508.74 505.31 L509.08 505.31 L509.42 505.32 L509.76 505.32 L510.10 505.32 L510.44 505.32 L510.78 505.32 L511.12 505.33 L511.46 505.33 L511.80 505.33 L512.14 505.33 L512.48 505.33 L512.82 505.34 L513.16 505.34 L513.50 505.34 L513.84 505.34 L514.18 505.34 L514.52 505.34 L514.86 505.35 L515.20 505.35 L515.54 505.35 L515.88 505.35 L516.22 505.35 L516.56 505.35 L516.90 505.36 L517.24 505.36 L517.58 505.36 L517.92 505.36 L518.26 505.36 L518.60 505.36 L518.94 505.37 L519.28 505.37 L519.62 505.37 L519.96 505.37 L520.30 505.37 L520.64 505.37 L520.98 505.37 L521.32 505.38 L521.66 505.38 L522.00 505.38 L522.34 505.38 L522.68 505.38 L523.02 505.38 L523.36 505.38 L523.70 505.38 L524.04 505.39 L524.38 505.39 L524.72 505.39 L525.06 505.39 L525.40 505.39 L525.74 505.39 L526.08 505.39 L526.42 505.39 L526.76 505.40 L527.10 505.40 L527.44 505.40 L527.78 505.40 L528.12 505.40 L528.46 505.40 L528.80 505.40 L529.14 505.40 L529.48 505.40 L529.82 505.41 L530.16 505.41 L530.50 505.41 L530.84 505.41 L531.18 505.41 L531.52 505.41 L531.86 505.41 L532.20 505.41 L532.54 505.41 L532.88 505.41 L533.22 505.42 L533.56 505.42 L533.90 505.42 L534.23 505.42 L534.57 505.42 L534.91 505.42 L535.25 505.42 L535.59 505.42 L535.93 505.42 L536.27 505.42 L536.61 505.42 L536.95 505.42 L537.29 505.43 L537.63 505.43 L537.97 505.43 L538.31 505.43 L538.65 505.43 L538.99 505.43 L539.33 505.43 L539.67 505.43 L540.01 505.43 L540.35 505.43 L540.69 505.43 L541.03 505.43 L541.37 505.43 L541.71 505.44 L542.05 505.44 L542.39 505.44 L542.73 505.44 L543.07 505.44 L543.41 505.44 L543.75 505.44 L544.09 505.44 L544.43 505.44 L544.77 505.44 L545.11 505.44 L545.45 505.44 L545.79 505.44 L546.13 505.44 L546.47 505.44 L546.81 505.45 L547.15 505.45 L547.49 505.45 L547.83 505.45 L548.17 505.45 L548.51 505.45 L548.85 505.45 L549.19 505.45 L549.53 505.45 L549.87 505.45 L550.21 505.45 L550.55 505.45 L550.89 505.45 L551.23 505.45 L551.57 505.45 L551.91 505.45 L552.25 505.45 L552.59 505.45 L552.93 505.46 L553.27 505.46 L553.61 505.46 L553.95 505.46 L554.29 505.46 L554.63 505.46 L554.97 505.46 L555.31 505.46 L555.65 505.46 L555.99 505.46 L556.33 505.46 L556.67 505.46 L557.01 505.46 L557.35 505.46 L557.69 505.46 L558.03 505.46 L558.37 505.46 L558.71 505.46 L559.05 505.46 L559.39 505.46 L559.73 505.46 L560.07 505.46 L560.41 505.46 L560.75 505.47 L561.09 505.47 L561.43 505.47 L561.77 505.47 L562.11 505.47 L562.45 505.47 L562.79 505.47 L563.13 505.47 L563.47 505.47 L563.81 505.47 L564.15 505.47 L564.49 505.47 L564.82 505.47 L565.16 505.47 L565.50 505.47 L565.84 505.47 L566.18 505.47 L566.52 505.47 L566.86 505.47 L567.20 505.47 L567.54 505.47 L567.88 505.47 L568.22 505.47 L568.56 505.47 L568.90 505.47 L569.24 505.47 L569.58 505.47 L569.92 505.47 L570.26 505.47 L570.60 505.47 L570.94 505.48 L571.28 505.48 L571.62 505.48 L571.96 505.48 L572.30 505.48 L572.64 505.48 L572.98 505.48 L573.32 505.48 L573.66 505.48 L574.00 505.48 L574.34 505.48 L574.68 505.48 L575.02 505.48 L575.36 505.48 L575.70 505.48 L576.04 505.48 L576.38 505.48 L576.72 505.48 L577.06 505.48 L577.40 505.48 L577.74 505.48 L578.08 505.48 L578.42 505.48 L578.76 505.48 L579.10 505.48 L579.44 505.48 L579.78 505.48 L580.12 505.48 L580.46 505.48 L580.80 505.48 L581.14 505.48 L581.48 505.48 L581.82 505.48 L582.16 505.48 L582.50 505.48 L582.84 505.48 L583.18 505.48 L583.52 505.48 L583.86 505.48 L584.20 505.48 L584.54 505.48 L584.88 505.48 L585.22 505.48 L585.56 505.48 L585.90 505.48 L586.24 505.48 L586.58 505.48 L586.92 505.49 L587.26 505.49 L587.60 505.49 L587.94 505.49 L588.28 505.49 L588.62 505.49 L588.96 505.49 L589.30 505.49 L589.64 505.49 L589.98 505.49 L590.32 505.49 L590.66 505.49 L591.00 505.49 L591.34 505.49 L591.68 505.49 L592.02 505.49 L592.36 505.49 L592.70 505.49 L593.04 505.49 L593.38 505.49 L593.72 505.49 L594.06 505.49 L594.40 505.49 L594.74 505.49 L595.08 505.49 L595.41 505.49 L595.75 505.49 L596.09 505.49 L596.43 505.49 L596.77 505.49 L597.11 505.49 L597.45 505.49 L597.79 505.49 L598.13 505.49 L598.47 505.49 L598.81 505.49 L599.15 505.49 L599.49 505.49 L599.83 505.49 L600.17 505.49 L600.51 505.49 L600.85 505.49 L601.19 505.49 L601.53 505.49 L601.87 505.49 L602.21 505.49 L602.55 505.49 L602.89 505.49 L603.23 505.49 L603.57 505.49 L603.91 505.49 L604.25 505.49 L604.59 505.49 L604.93 505.49 L605.27 505.49 L605.61 505.49 L605.95 505.49 L606.29 505.49 L606.63 505.49 L606.97 505.49 L607.31 505.49 L607.65 505.49 L607.99 505.49 L608.33 505.49 L608.67 505.49 L609.01 505.49 L609.35 505.49 L609.69 505.49 L610.03 505.49 L610.37 505.49 L610.71 505.49 L611.05 505.49 L611.39 505.49 L611.73 505.49 L612.07 505.49 L612.41 505.49 L612.75 505.49 L613.09 505.49 L613.43 505.49 L613.77 505.49 L614.11 505.49 L614.45 505.49 L614.79 505.49 L615.13 505.49 L615.47 505.49 L615.81 505.49 L616.15 505.49 L616.49 505.49 L616.83 505.49 L617.17 505.49 L617.51 505.49 L617.85 505.49 L618.19 505.49 L618.53 505.49 L618.87 505.49 L619.21 505.49 L619.55 505.49 L619.89 505.49 L620.23 505.49 L620.57 505.49 L620.91 505.50 L621.25 505.50 L621.59 505.50 L621.93 505.50 L622.27 505.50 L622.61 505.50 L622.95 505.50 L623.29 505.50 L623.63 505.50 L623.97 505.50 L624.31 505.50 L624.65 505.50 L624.99 505.50 L625.33 505.50 L625.67 505.50 L626.00 505.50 L626.34 505.50 L626.68 505.50 L627.02 505.50 L627.36 505.50 L627.70 505.50 L628.04 505.50 L628.38 505.50 L628.72 505.50 L629.06 505.50 L629.40 505.50 L629.74 505.50 L630.08 505.50 L630.42 505.50 L630.76 505.50 L631.10 505.50 L631.44 505.50 L631.78 505.50 L632.12 505.50 L632.46 505.50 L632.80 505.50 L633.14 505.50 L633.48 505.50 L633.82 505.50 L634.16 505.50 L634.50 505.50 L634.84 505.50 L635.18 505.50 L635.52 505.50 L635.86 505.50 L636.20 505.50 L636.54 505.50 L636.88 505.50 L637.22 505.50 L637.56 505.50 L637.90 505.50 L638.24 505.50 L638.58 505.50 L638.92 505.50 L639.26 505.50 L639.60 505.50 L639.94 505.50 L640.28 505.50 L640.62 505.50 L640.96 505.50 L641.30 505.50" stroke="#ff0000" stroke-width="1.55" stroke-dasharray="1.6 4.049" stroke-dashoffset="0.22" clip-path="url(#ch)"/>
<path d="M29.50 505.50 L29.84 505.50 L30.18 505.50 L30.52 505.50 L30.86 505.50 L31.20 505.50 L31.54 505.50 L31.88 505.50 L32.22 505.50 L32.56 505.50 L32.90 505.50 L33.24 505.50 L33.58 505.50 L33.92 505.50 L34.26 505.50 L34.60 505.50 L34.94 505.50 L35.28 505.50 L35.62 505.50 L35.96 505.50 L36.30 505.50 L36.64 505.50 L36.98 505.50 L37.32 505.50 L37.66 505.50 L38.00 505.50 L38.34 505.50 L38.68 505.50 L39.02 505.50 L39.36 505.50 L39.70 505.50 L40.04 505.50 L40.38 505.50 L40.72 505.50 L41.06 505.50 L41.40 505.50 L41.74 505.50 L42.08 505.50 L42.42 505.50 L42.76 505.50 L43.10 505.50 L43.44 505.50 L43.78 505.50 L44.12 505.50 L44.46 505.50 L44.80 505.50 L45.13 505.50 L45.47 505.50 L45.81 505.50 L46.15 505.50 L46.49 505.50 L46.83 505.50 L47.17 505.50 L47.51 505.50 L47.85 505.50 L48.19 505.50 L48.53 505.50 L48.87 505.50 L49.21 505.50 L49.55 505.50 L49.89 505.50 L50.23 505.50 L50.57 505.50 L50.91 505.50 L51.25 505.50 L51.59 505.50 L51.93 505.50 L52.27 505.50 L52.61 505.50 L52.95 505.50 L53.29 505.50 L53.63 505.50 L53.97 505.50 L54.31 505.50 L54.65 505.50 L54.99 505.50 L55.33 505.50 L55.67 505.50 L56.01 505.50 L56.35 505.50 L56.69 505.50 L57.03 505.50 L57.37 505.50 L57.71 505.50 L58.05 505.50 L58.39 505.50 L58.73 505.50 L59.07 505.50 L59.41 505.50 L59.75 505.50 L60.09 505.50 L60.43 505.50 L60.77 505.50 L61.11 505.50 L61.45 505.50 L61.79 505.50 L62.13 505.50 L62.47 505.50 L62.81 505.50 L63.15 505.50 L63.49 505.50 L63.83 505.50 L64.17 505.50 L64.51 505.50 L64.85 505.50 L65.19 505.50 L65.53 505.50 L65.87 505.50 L66.21 505.50 L66.55 505.50 L66.89 505.50 L67.23 505.50 L67.57 505.50 L67.91 505.50 L68.25 505.50 L68.59 505.50 L68.93 505.50 L69.27 505.50 L69.61 505.50 L69.95 505.50 L70.29 505.50 L70.63 505.50 L70.97 505.50 L71.31 505.50 L71.65 505.50 L71.99 505.50 L72.33 505.50 L72.67 505.50 L73.01 505.50 L73.35 505.50 L73.69 505.50 L74.03 505.50 L74.37 505.50 L74.71 505.50 L75.05 505.50 L75.38 505.50 L75.72 505.50 L76.06 505.50 L76.40 505.50 L76.74 505.50 L77.08 505.50 L77.42 505.50 L77.76 505.50 L78.10 505.50 L78.44 505.50 L78.78 505.50 L79.12 505.50 L79.46 505.50 L79.80 505.50 L80.14 505.50 L80.48 505.50 L80.82 505.50 L81.16 505.50 L81.50 505.50 L81.84 505.50 L82.18 505.50 L82.52 505.50 L82.86 505.50 L83.20 505.50 L83.54 505.50 L83.88 505.50 L84.22 505.50 L84.56 505.50 L84.90 505.50 L85.24 505.50 L85.58 505.50 L85.92 505.50 L86.26 505.50 L86.60 505.50 L86.94 505.50 L87.28 505.50 L87.62 505.50 L87.96 505.50 L88.30 505.50 L88.64 505.50 L88.98 505.50 L89.32 505.50 L89.66 505.50 L90.00 505.50 L90.34 505.50 L90.68 505.50 L91.02 505.50 L91.36 505.50 L91.70 505.50 L92.04 505.50 L92.38 505.50 L92.72 505.50 L93.06 505.50 L93.40 505.50 L93.74 505.50 L94.08 505.50 L94.42 505.50 L94.76 505.50 L95.10 505.50 L95.44 505.50 L95.78 505.50 L96.12 505.50 L96.46 505.50 L96.80 505.50 L97.14 505.50 L97.48 505.50 L97.82 505.50 L98.16 505.50 L98.50 505.50 L98.84 505.50 L99.18 505.50 L99.52 505.50 L99.86 505.50 L100.20 505.50 L100.54 505.50 L100.88 505.50 L101.22 505.50 L101.56 505.50 L101.90 505.50 L102.24 505.50 L102.58 505.50 L102.92 505.50 L103.26 505.50 L103.60 505.50 L103.94 505.50 L104.28 505.50 L104.62 505.50 L104.96 505.50 L105.30 505.50 L105.64 505.50 L105.97 505.50 L106.31 505.50 L106.65 505.50 L106.99 505.50 L107.33 505.50 L107.67 505.50 L108.01 505.50 L108.35 505.50 L108.69 505.50 L109.03 505.50 L109.37 505.50 L109.71 505.50 L110.05 505.50 L110.39 505.50 L110.73 505.50 L111.07 505.50 L111.41 505.50 L111.75 505.50 L112.09 505.50 L112.43 505.50 L112.77 505.50 L113.11 505.50 L113.45 505.50 L113.79 505.50 L114.13 505.50 L114.47 505.50 L114.81 505.50 L115.15 505.50 L115.49 505.50 L115.83 505.49 L116.17 505.49 L116.51 505.49 L116.85 505.49 L117.19 505.49 L117.53 505.49 L117.87 505.49 L118.21 505.49 L118.55 505.49 L118.89 505.49 L119.23 505.49 L119.57 505.49 L119.91 505.49 L120.25 505.49 L120.59 505.49 L120.93 505.49 L121.27 505.49 L121.61 505.49 L121.95 505.49 L122.29 505.49 L122.63 505.49 L122.97 505.49 L123.31 505.49 L123.65 505.49 L123.99 505.49 L124.33 505.49 L124.67 505.49 L125.01 505.49 L125.35 505.49 L125.69 505.49 L126.03 505.49 L126.37 505.49 L126.71 505.49 L127.05 505.49 L127.39 505.49 L127.73 505.49 L128.07 505.49 L128.41 505.49 L128.75 505.49 L129.09 505.49 L129.43 505.49 L129.77 505.49 L130.11 505.49 L130.45 505.49 L130.79 505.49 L131.13 505.48 L131.47 505.48 L131.81 505.48 L132.15 505.48 L132.49 505.48 L132.83 505.48 L133.17 505.48 L133.51 505.48 L133.85 505.48 L134.19 505.48 L134.53 505.48 L134.87 505.48 L135.21 505.48 L135.55 505.48 L135.89 505.48 L136.23 505.48 L136.56 505.48 L136.90 505.48 L137.24 505.48 L137.58 505.48 L137.92 505.48 L138.26 505.47 L138.60 505.47 L138.94 505.47 L139.28 505.47 L139.62 505.47 L139.96 505.47 L140.30 505.47 L140.64 505.47 L140.98 505.47 L141.32 505.47 L141.66 505.47 L142.00 505.47 L142.34 505.47 L142.68 505.47 L143.02 505.46 L143.36 505.46 L143.70 505.46 L144.04 505.46 L144.38 505.46 L144.72 505.46 L145.06 505.46 L145.40 505.46 L145.74 505.46 L146.08 505.46 L146.42 505.45 L146.76 505.45 L147.10 505.45 L147.44 505.45 L147.78 505.45 L148.12 505.45 L148.46 505.45 L148.80 505.45 L149.14 505.44 L149.48 505.44 L149.82 505.44 L150.16 505.44 L150.50 505.44 L150.84 505.44 L151.18 505.44 L151.52 505.43 L151.86 505.43 L152.20 505.43 L152.54 505.43 L152.88 505.43 L153.22 505.43 L153.56 505.42 L153.90 505.42 L154.24 505.42 L154.58 505.42 L154.92 505.42 L155.26 505.41 L155.60 505.41 L155.94 505.41 L156.28 505.41 L156.62 505.41 L156.96 505.40 L157.30 505.40 L157.64 505.40 L157.98 505.40 L158.32 505.39 L158.66 505.39 L159.00 505.39 L159.34 505.39 L159.68 505.38 L160.02 505.38 L160.36 505.38 L160.70 505.37 L161.04 505.37 L161.38 505.37 L161.72 505.36 L162.06 505.36 L162.40 505.36 L162.74 505.35 L163.08 505.35 L163.42 505.35 L163.76 505.34 L164.10 505.34 L164.44 505.34 L164.78 505.33 L165.12 505.33 L165.46 505.32 L165.80 505.32 L166.14 505.31 L166.48 505.31 L166.82 505.30 L167.16 505.30 L167.49 505.30 L167.83 505.29 L168.17 505.28 L168.51 505.28 L168.85 505.27 L169.19 505.27 L169.53 505.26 L169.87 505.26 L170.21 505.25 L170.55 505.24 L170.89 505.24 L171.23 505.23 L171.57 505.23 L171.91 505.22 L172.25 505.21 L172.59 505.20 L172.93 505.20 L173.27 505.19 L173.61 505.18 L173.95 505.17 L174.29 505.17 L174.63 505.16 L174.97 505.15 L175.31 505.14 L175.65 505.13 L175.99 505.12 L176.33 505.11 L176.67 505.10 L177.01 505.10 L177.35 505.09 L177.69 505.07 L178.03 505.06 L178.37 505.05 L178.71 505.04 L179.05 505.03 L179.39 505.02 L179.73 505.01 L180.07 505.00 L180.41 504.98 L180.75 504.97 L181.09 504.96 L181.43 504.94 L181.77 504.93 L182.11 504.92 L182.45 504.90 L182.79 504.89 L183.13 504.87 L183.47 504.86 L183.81 504.84 L184.15 504.83 L184.49 504.81 L184.83 504.79 L185.17 504.77 L185.51 504.76 L185.85 504.74 L186.19 504.72 L186.53 504.70 L186.87 504.68 L187.21 504.66 L187.55 504.64 L187.89 504.62 L188.23 504.60 L188.57 504.58 L188.91 504.55 L189.25 504.53 L189.59 504.51 L189.93 504.48 L190.27 504.46 L190.61 504.43 L190.95 504.40 L191.29 504.38 L191.63 504.35 L191.97 504.32 L192.31 504.29 L192.65 504.26 L192.99 504.23 L193.33 504.20 L193.67 504.17 L194.01 504.14 L194.35 504.10 L194.69 504.07 L195.03 504.04 L195.37 504.00 L195.71 503.96 L196.05 503.93 L196.39 503.89 L196.73 503.85 L197.07 503.81 L197.41 503.77 L197.74 503.72 L198.08 503.68 L198.42 503.64 L198.76 503.59 L199.10 503.54 L199.44 503.50 L199.78 503.45 L200.12 503.40 L200.46 503.35 L200.80 503.29 L201.14 503.24 L201.48 503.19 L201.82 503.13 L202.16 503.07 L202.50 503.01 L202.84 502.95 L203.18 502.89 L203.52 502.83 L203.86 502.76 L204.20 502.70 L204.54 502.63 L204.88 502.56 L205.22 502.49 L205.56 502.41 L205.90 502.34 L206.24 502.26 L206.58 502.18 L206.92 502.10 L207.26 502.02 L207.60 501.94 L207.94 501.85 L208.28 501.76 L208.62 501.67 L208.96 501.58 L209.30 501.49 L209.64 501.39 L209.98 501.29 L210.32 501.19 L210.66 501.09 L211.00 500.98 L211.34 500.87 L211.68 500.76 L212.02 500.65 L212.36 500.53 L212.70 500.41 L213.04 500.29 L213.38 500.17 L213.72 500.04 L214.06 499.91 L214.40 499.78 L214.74 499.64 L215.08 499.50 L215.42 499.36 L215.76 499.21 L216.10 499.06 L216.44 498.91 L216.78 498.76 L217.12 498.60 L217.46 498.43 L217.80 498.27 L218.14 498.10 L218.48 497.92 L218.82 497.74 L219.16 497.56 L219.50 497.37 L219.84 497.18 L220.18 496.99 L220.52 496.79 L220.86 496.59 L221.20 496.38 L221.54 496.17 L221.88 495.95 L222.22 495.73 L222.56 495.50 L222.90 495.27 L223.24 495.03 L223.58 494.79 L223.92 494.54 L224.26 494.29 L224.60 494.03 L224.94 493.77 L225.28 493.50 L225.62 493.23 L225.96 492.95 L226.30 492.66 L226.64 492.37 L226.98 492.07 L227.32 491.77 L227.66 491.46 L228.00 491.14 L228.33 490.82 L228.67 490.49 L229.01 490.15 L229.35 489.81 L229.69 489.46 L230.03 489.11 L230.37 488.74 L230.71 488.37 L231.05 487.99 L231.39 487.61 L231.73 487.22 L232.07 486.82 L232.41 486.41 L232.75 485.99 L233.09 485.57 L233.43 485.14 L233.77 484.70 L234.11 484.25 L234.45 483.80 L234.79 483.33 L235.13 482.86 L235.47 482.38 L235.81 481.89 L236.15 481.39 L236.49 480.89 L236.83 480.37 L237.17 479.85 L237.51 479.32 L237.85 478.78 L238.19 478.23 L238.53 477.67 L238.87 477.10 L239.21 476.52 L239.55 475.94 L239.89 475.34 L240.23 474.74 L240.57 474.13 L240.91 473.50 L241.25 472.87 L241.59 472.23 L241.93 471.58 L242.27 470.92 L242.61 470.25 L242.95 469.57 L243.29 468.89 L243.63 468.19 L243.97 467.48 L244.31 466.77 L244.65 466.04 L244.99 465.31 L245.33 464.57 L245.67 463.82 L246.01 463.06 L246.35 462.29 L246.69 461.52 L247.03 460.73 L247.37 459.94 L247.71 459.14 L248.05 458.33 L248.39 457.51 L248.73 456.69 L249.07 455.86 L249.41 455.02 L249.75 454.17 L250.09 453.31 L250.43 452.45 L250.77 451.58 L251.11 450.71 L251.45 449.83 L251.79 448.94 L252.13 448.05 L252.47 447.15 L252.81 446.25 L253.15 445.34 L253.49 444.43 L253.83 443.51 L254.17 442.59 L254.51 441.67 L254.85 440.74 L255.19 439.81 L255.53 438.87 L255.87 437.94 L256.21 437.00 L256.55 436.06 L256.89 435.11 L257.23 434.17 L257.57 433.22 L257.91 432.28 L258.25 431.33 L258.59 430.39 L258.92 429.45 L259.26 428.50 L259.60 427.56 L259.94 426.62 L260.28 425.69 L260.62 424.75 L260.96 423.82 L261.30 422.89 L261.64 421.97 L261.98 421.05 L262.32 420.13 L262.66 419.22 L263.00 418.32 L263.34 417.42 L263.68 416.53 L264.02 415.64 L264.36 414.76 L264.70 413.89 L265.04 413.03 L265.38 412.17 L265.72 411.32 L266.06 410.48 L266.40 409.65 L266.74 408.83 L267.08 408.02 L267.42 407.23 L267.76 406.44 L268.10 405.66 L268.44 404.89 L268.78 404.13 L269.12 403.39 L269.46 402.66 L269.80 401.94 L270.14 401.23 L270.48 400.54 L270.82 399.86 L271.16 399.19 L271.50 398.53 L271.84 397.89 L272.18 397.27 L272.52 396.65 L272.86 396.06 L273.20 395.47 L273.54 394.90 L273.88 394.35 L274.22 393.81 L274.56 393.29 L274.90 392.78 L275.24 392.29 L275.58 391.81 L275.92 391.35 L276.26 390.90 L276.60 390.47 L276.94 390.05 L277.28 389.65 L277.62 389.27 L277.96 388.90 L278.30 388.55 L278.64 388.22 L278.98 387.90 L279.32 387.59 L279.66 387.30 L280.00 387.03 L280.34 386.77 L280.68 386.53 L281.02 386.31 L281.36 386.10 L281.70 385.90 L282.04 385.73 L282.38 385.56 L282.72 385.42 L283.06 385.28 L283.40 385.16 L283.74 385.06 L284.08 384.97 L284.42 384.90 L284.76 384.84 L285.10 384.80 L285.44 384.77 L285.78 384.75 L286.12 384.75 L286.46 384.76 L286.80 384.79 L287.14 384.83 L287.48 384.88 L287.82 384.95 L288.16 385.03 L288.50 385.12 L288.84 385.23 L289.18 385.34 L289.51 385.47 L289.85 385.61 L290.19 385.77 L290.53 385.93 L290.87 386.11 L291.21 386.30 L291.55 386.50 L291.89 386.71 L292.23 386.93 L292.57 387.16 L292.91 387.41 L293.25 387.66 L293.59 387.92 L293.93 388.19 L294.27 388.47 L294.61 388.77 L294.95 389.07 L295.29 389.38 L295.63 389.69 L295.97 390.02 L296.31 390.36 L296.65 390.70 L296.99 391.05 L297.33 391.41 L297.67 391.78 L298.01 392.15 L298.35 392.53 L298.69 392.92 L299.03 393.32 L299.37 393.72 L299.71 394.13 L300.05 394.55 L300.39 394.97 L300.73 395.40 L301.07 395.83 L301.41 396.27 L301.75 396.71 L302.09 397.16 L302.43 397.62 L302.77 398.08 L303.11 398.54 L303.45 399.01 L303.79 399.48 L304.13 399.96 L304.47 400.44 L304.81 400.93 L305.15 401.42 L305.49 401.91 L305.83 402.41 L306.17 402.91 L306.51 403.41 L306.85 403.92 L307.19 404.43 L307.53 404.94 L307.87 405.45 L308.21 405.97 L308.55 406.49 L308.89 407.01 L309.23 407.54 L309.57 408.06 L309.91 408.59 L310.25 409.12 L310.59 409.65 L310.93 410.19 L311.27 410.72 L311.61 411.26 L311.95 411.79 L312.29 412.33 L312.63 412.87 L312.97 413.41 L313.31 413.95 L313.65 414.49 L313.99 415.04 L314.33 415.58 L314.67 416.12 L315.01 416.66 L315.35 417.21 L315.69 417.75 L316.03 418.30 L316.37 418.84 L316.71 419.38 L317.05 419.93 L317.39 420.47 L317.73 421.01 L318.07 421.56 L318.41 422.10 L318.75 422.64 L319.09 423.18 L319.43 423.72 L319.77 424.26 L320.10 424.80 L320.44 425.34 L320.78 425.87 L321.12 426.41 L321.46 426.94 L321.80 427.48 L322.14 428.01 L322.48 428.54 L322.82 429.07 L323.16 429.60 L323.50 430.12 L323.84 430.65 L324.18 431.17 L324.52 431.70 L324.86 432.22 L325.20 432.74 L325.54 433.25 L325.88 433.77 L326.22 434.28 L326.56 434.80 L326.90 435.31 L327.24 435.81 L327.58 436.32 L327.92 436.83 L328.26 437.33 L328.60 437.83 L328.94 438.33 L329.28 438.83 L329.62 439.32 L329.96 439.81 L330.30 440.30 L330.64 440.79 L330.98 441.28 L331.32 441.76 L331.66 442.25 L332.00 442.73 L332.34 443.20 L332.68 443.68 L333.02 444.15 L333.36 444.62 L333.70 445.09 L334.04 445.56 L334.38 446.02 L334.72 446.48 L335.06 446.94 L335.40 447.40 L335.74 447.85 L336.08 448.30 L336.42 448.75 L336.76 449.20 L337.10 449.64 L337.44 450.08 L337.78 450.52 L338.12 450.96 L338.46 451.39 L338.80 451.83 L339.14 452.26 L339.48 452.68 L339.82 453.11 L340.16 453.53 L340.50 453.95 L340.84 454.37 L341.18 454.78 L341.52 455.19 L341.86 455.60 L342.20 456.01 L342.54 456.41 L342.88 456.81 L343.22 457.21 L343.56 457.61 L343.90 458.00 L344.24 458.40 L344.58 458.78 L344.92 459.17 L345.26 459.56 L345.60 459.94 L345.94 460.32 L346.28 460.69 L346.62 461.07 L346.96 461.44 L347.30 461.81 L347.64 462.17 L347.98 462.54 L348.32 462.90 L348.66 463.26 L349.00 463.61 L349.34 463.97 L349.68 464.32 L350.02 464.67 L350.36 465.02 L350.69 465.36 L351.03 465.70 L351.37 466.04 L351.71 466.38 L352.05 466.71 L352.39 467.05 L352.73 467.38 L353.07 467.70 L353.41 468.03 L353.75 468.35 L354.09 468.67 L354.43 468.99 L354.77 469.30 L355.11 469.62 L355.45 469.93 L355.79 470.24 L356.13 470.54 L356.47 470.85 L356.81 471.15 L357.15 471.45 L357.49 471.75 L357.83 472.04 L358.17 472.33 L358.51 472.62 L358.85 472.91 L359.19 473.20 L359.53 473.48 L359.87 473.76 L360.21 474.04 L360.55 474.32 L360.89 474.60 L361.23 474.87 L361.57 475.14 L361.91 475.41 L362.25 475.68 L362.59 475.94 L362.93 476.20 L363.27 476.46 L363.61 476.72 L363.95 476.98 L364.29 477.23 L364.63 477.48 L364.97 477.73 L365.31 477.98 L365.65 478.23 L365.99 478.47 L366.33 478.71 L366.67 478.95 L367.01 479.19 L367.35 479.43 L367.69 479.66 L368.03 479.90 L368.37 480.13 L368.71 480.36 L369.05 480.58 L369.39 480.81 L369.73 481.03 L370.07 481.25 L370.41 481.47 L370.75 481.69 L371.09 481.90 L371.43 482.12 L371.77 482.33 L372.11 482.54 L372.45 482.75 L372.79 482.96 L373.13 483.16 L373.47 483.37 L373.81 483.57 L374.15 483.77 L374.49 483.97 L374.83 484.16 L375.17 484.36 L375.51 484.55 L375.85 484.74 L376.19 484.93 L376.53 485.12 L376.87 485.31 L377.21 485.49 L377.55 485.68 L377.89 485.86 L378.23 486.04 L378.57 486.22 L378.91 486.40 L379.25 486.57 L379.59 486.75 L379.93 486.92 L380.27 487.09 L380.61 487.26 L380.95 487.43 L381.28 487.60 L381.62 487.76 L381.96 487.93 L382.30 488.09 L382.64 488.25 L382.98 488.41 L383.32 488.57 L383.66 488.73 L384.00 488.88 L384.34 489.04 L384.68 489.19 L385.02 489.34 L385.36 489.49 L385.70 489.64 L386.04 489.79 L386.38 489.93 L386.72 490.08 L387.06 490.22 L387.40 490.37 L387.74 490.51 L388.08 490.65 L388.42 490.79 L388.76 490.92 L389.10 491.06 L389.44 491.19 L389.78 491.33 L390.12 491.46 L390.46 491.59 L390.80 491.72 L391.14 491.85 L391.48 491.98 L391.82 492.11 L392.16 492.23 L392.50 492.36 L392.84 492.48 L393.18 492.60 L393.52 492.72 L393.86 492.84 L394.20 492.96 L394.54 493.08 L394.88 493.20 L395.22 493.31 L395.56 493.43 L395.90 493.54 L396.24 493.66 L396.58 493.77 L396.92 493.88 L397.26 493.99 L397.60 494.10 L397.94 494.21 L398.28 494.31 L398.62 494.42 L398.96 494.52 L399.30 494.63 L399.64 494.73 L399.98 494.83 L400.32 494.93 L400.66 495.03 L401.00 495.13 L401.34 495.23 L401.68 495.33 L402.02 495.42 L402.36 495.52 L402.70 495.61 L403.04 495.71 L403.38 495.80 L403.72 495.89 L404.06 495.98 L404.40 496.08 L404.74 496.16 L405.08 496.25 L405.42 496.34 L405.76 496.43 L406.10 496.52 L406.44 496.60 L406.78 496.69 L407.12 496.77 L407.46 496.85 L407.80 496.94 L408.14 497.02 L408.48 497.10 L408.82 497.18 L409.16 497.26 L409.50 497.34 L409.84 497.41 L410.18 497.49 L410.52 497.57 L410.86 497.64 L411.20 497.72 L411.54 497.79 L411.87 497.87 L412.21 497.94 L412.55 498.01 L412.89 498.08 L413.23 498.16 L413.57 498.23 L413.91 498.30 L414.25 498.36 L414.59 498.43 L414.93 498.50 L415.27 498.57 L415.61 498.63 L415.95 498.70 L416.29 498.77 L416.63 498.83 L416.97 498.89 L417.31 498.96 L417.65 499.02 L417.99 499.08 L418.33 499.14 L418.67 499.20 L419.01 499.27 L419.35 499.33 L419.69 499.38 L420.03 499.44 L420.37 499.50 L420.71 499.56 L421.05 499.62 L421.39 499.67 L421.73 499.73 L422.07 499.78 L422.41 499.84 L422.75 499.89 L423.09 499.95 L423.43 500.00 L423.77 500.05 L424.11 500.11 L424.45 500.16 L424.79 500.21 L425.13 500.26 L425.47 500.31 L425.81 500.36 L426.15 500.41 L426.49 500.46 L426.83 500.51 L427.17 500.56 L427.51 500.61 L427.85 500.65 L428.19 500.70 L428.53 500.75 L428.87 500.79 L429.21 500.84 L429.55 500.88 L429.89 500.93 L430.23 500.97 L430.57 501.02 L430.91 501.06 L431.25 501.10 L431.59 501.14 L431.93 501.19 L432.27 501.23 L432.61 501.27 L432.95 501.31 L433.29 501.35 L433.63 501.39 L433.97 501.43 L434.31 501.47 L434.65 501.51 L434.99 501.55 L435.33 501.59 L435.67 501.62 L436.01 501.66 L436.35 501.70 L436.69 501.74 L437.03 501.77 L437.37 501.81 L437.71 501.84 L438.05 501.88 L438.39 501.91 L438.73 501.95 L439.07 501.98 L439.41 502.02 L439.75 502.05 L440.09 502.09 L440.43 502.12 L440.77 502.15 L441.11 502.18 L441.45 502.22 L441.79 502.25 L442.13 502.28 L442.46 502.31 L442.80 502.34 L443.14 502.37 L443.48 502.40 L443.82 502.43 L444.16 502.46 L444.50 502.49 L444.84 502.52 L445.18 502.55 L445.52 502.58 L445.86 502.61 L446.20 502.64 L446.54 502.66 L446.88 502.69 L447.22 502.72 L447.56 502.75 L447.90 502.77 L448.24 502.80 L448.58 502.82 L448.92 502.85 L449.26 502.88 L449.60 502.90 L449.94 502.93 L450.28 502.95 L450.62 502.98 L450.96 503.00 L451.30 503.03 L451.64 503.05 L451.98 503.07 L452.32 503.10 L452.66 503.12 L453.00 503.14 L453.34 503.17 L453.68 503.19 L454.02 503.21 L454.36 503.23 L454.70 503.26 L455.04 503.28 L455.38 503.30 L455.72 503.32 L456.06 503.34 L456.40 503.36 L456.74 503.39 L457.08 503.41 L457.42 503.43 L457.76 503.45 L458.10 503.47 L458.44 503.49 L458.78 503.51 L459.12 503.53 L459.46 503.54 L459.80 503.56 L460.14 503.58 L460.48 503.60 L460.82 503.62 L461.16 503.64 L461.50 503.66 L461.84 503.67 L462.18 503.69 L462.52 503.71 L462.86 503.73 L463.20 503.74 L463.54 503.76 L463.88 503.78 L464.22 503.80 L464.56 503.81 L464.90 503.83 L465.24 503.84 L465.58 503.86 L465.92 503.88 L466.26 503.89 L466.60 503.91 L466.94 503.92 L467.28 503.94 L467.62 503.95 L467.96 503.97 L468.30 503.98 L468.64 504.00 L468.98 504.01 L469.32 504.03 L469.66 504.04 L470.00 504.06 L470.34 504.07 L470.68 504.09 L471.02 504.10 L471.36 504.11 L471.70 504.13 L472.04 504.14 L472.38 504.15 L472.72 504.17 L473.05 504.18 L473.39 504.19 L473.73 504.21 L474.07 504.22 L474.41 504.23 L474.75 504.24 L475.09 504.26 L475.43 504.27 L475.77 504.28 L476.11 504.29 L476.45 504.30 L476.79 504.32 L477.13 504.33 L477.47 504.34 L477.81 504.35 L478.15 504.36 L478.49 504.37 L478.83 504.38 L479.17 504.39 L479.51 504.40 L479.85 504.42 L480.19 504.43 L480.53 504.44 L480.87 504.45 L481.21 504.46 L481.55 504.47 L481.89 504.48 L482.23 504.49 L482.57 504.50 L482.91 504.51 L483.25 504.52 L483.59 504.53 L483.93 504.54 L484.27 504.55 L484.61 504.56 L484.95 504.56 L485.29 504.57 L485.63 504.58 L485.97 504.59 L486.31 504.60 L486.65 504.61 L486.99 504.62 L487.33 504.63 L487.67 504.64 L488.01 504.64 L488.35 504.65 L488.69 504.66 L489.03 504.67 L489.37 504.68 L489.71 504.68 L490.05 504.69 L490.39 504.70 L490.73 504.71 L491.07 504.72 L491.41 504.72 L491.75 504.73 L492.09 504.74 L492.43 504.75 L492.77 504.75 L493.11 504.76 L493.45 504.77 L493.79 504.78 L494.13 504.78 L494.47 504.79 L494.81 504.80 L495.15 504.80 L495.49 504.81 L495.83 504.82 L496.17 504.82 L496.51 504.83 L496.85 504.84 L497.19 504.84 L497.53 504.85 L497.87 504.86 L498.21 504.86 L498.55 504.87 L498.89 504.88 L499.23 504.88 L499.57 504.89 L499.91 504.89 L500.25 504.90 L500.59 504.91 L500.93 504.91 L501.27 504.92 L501.61 504.92 L501.95 504.93 L502.29 504.93 L502.63 504.94 L502.97 504.95 L503.31 504.95 L503.64 504.96 L503.98 504.96 L504.32 504.97 L504.66 504.97 L505.00 504.98 L505.34 504.98 L505.68 504.99 L506.02 504.99 L506.36 505.00 L506.70 505.00 L507.04 505.01 L507.38 505.01 L507.72 505.02 L508.06 505.02 L508.40 505.03 L508.74 505.03 L509.08 505.04 L509.42 505.04 L509.76 505.04 L510.10 505.05 L510.44 505.05 L510.78 505.06 L511.12 505.06 L511.46 505.07 L511.80 505.07 L512.14 505.07 L512.48 505.08 L512.82 505.08 L513.16 505.09 L513.50 505.09 L513.84 505.10 L514.18 505.10 L514.52 505.10 L514.86 505.11 L515.20 505.11 L515.54 505.11 L515.88 505.12 L516.22 505.12 L516.56 505.13 L516.90 505.13 L517.24 505.13 L517.58 505.14 L517.92 505.14 L518.26 505.14 L518.60 505.15 L518.94 505.15 L519.28 505.15 L519.62 505.16 L519.96 505.16 L520.30 505.16 L520.64 505.17 L520.98 505.17 L521.32 505.17 L521.66 505.18 L522.00 505.18 L522.34 505.18 L522.68 505.19 L523.02 505.19 L523.36 505.19 L523.70 505.20 L524.04 505.20 L524.38 505.20 L524.72 505.20 L525.06 505.21 L525.40 505.21 L525.74 505.21 L526.08 505.22 L526.42 505.22 L526.76 505.22 L527.10 505.22 L527.44 505.23 L527.78 505.23 L528.12 505.23 L528.46 505.24 L528.80 505.24 L529.14 505.24 L529.48 505.24 L529.82 505.25 L530.16 505.25 L530.50 505.25 L530.84 505.25 L531.18 505.26 L531.52 505.26 L531.86 505.26 L532.20 505.26 L532.54 505.26 L532.88 505.27 L533.22 505.27 L533.56 505.27 L533.90 505.27 L534.23 505.28 L534.57 505.28 L534.91 505.28 L535.25 505.28 L535.59 505.28 L535.93 505.29 L536.27 505.29 L536.61 505.29 L536.95 505.29 L537.29 505.30 L537.63 505.30 L537.97 505.30 L538.31 505.30 L538.65 505.30 L538.99 505.31 L539.33 505.31 L539.67 505.31 L540.01 505.31 L540.35 505.31 L540.69 505.31 L541.03 505.32 L541.37 505.32 L541.71 505.32 L542.05 505.32 L542.39 505.32 L542.73 505.33 L543.07 505.33 L543.41 505.33 L543.75 505.33 L544.09 505.33 L544.43 505.33 L544.77 505.34 L545.11 505.34 L545.45 505.34 L545.79 505.34 L546.13 505.34 L546.47 505.34 L546.81 505.34 L547.15 505.35 L547.49 505.35 L547.83 505.35 L548.17 505.35 L548.51 505.35 L548.85 505.35 L549.19 505.36 L549.53 505.36 L549.87 505.36 L550.21 505.36 L550.55 505.36 L550.89 505.36 L551.23 505.36 L551.57 505.36 L551.91 505.37 L552.25 505.37 L552.59 505.37 L552.93 505.37 L553.27 505.37 L553.61 505.37 L553.95 505.37 L554.29 505.38 L554.63 505.38 L554.97 505.38 L555.31 505.38 L555.65 505.38 L555.99 505.38 L556.33 505.38 L556.67 505.38 L557.01 505.38 L557.35 505.39 L557.69 505.39 L558.03 505.39 L558.37 505.39 L558.71 505.39 L559.05 505.39 L559.39 505.39 L559.73 505.39 L560.07 505.39 L560.41 505.40 L560.75 505.40 L561.09 505.40 L561.43 505.40 L561.77 505.40 L562.11 505.40 L562.45 505.40 L562.79 505.40 L563.13 505.40 L563.47 505.40 L563.81 505.41 L564.15 505.41 L564.49 505.41 L564.82 505.41 L565.16 505.41 L565.50 505.41 L565.84 505.41 L566.18 505.41 L566.52 505.41 L566.86 505.41 L567.20 505.41 L567.54 505.42 L567.88 505.42 L568.22 505.42 L568.56 505.42 L568.90 505.42 L569.24 505.42 L569.58 505.42 L569.92 505.42 L570.26 505.42 L570.60 505.42 L570.94 505.42 L571.28 505.42 L571.62 505.42 L571.96 505.43 L572.30 505.43 L572.64 505.43 L572.98 505.43 L573.32 505.43 L573.66 505.43 L574.00 505.43 L574.34 505.43 L574.68 505.43 L575.02 505.43 L575.36 505.43 L575.70 505.43 L576.04 505.43 L576.38 505.43 L576.72 505.43 L577.06 505.44 L577.40 505.44 L577.74 505.44 L578.08 505.44 L578.42 505.44 L578.76 505.44 L579.10 505.44 L579.44 505.44 L579.78 505.44 L580.12 505.44 L580.46 505.44 L580.80 505.44 L581.14 505.44 L581.48 505.44 L581.82 505.44 L582.16 505.44 L582.50 505.45 L582.84 505.45 L583.18 505.45 L583.52 505.45 L583.86 505.45 L584.20 505.45 L584.54 505.45 L584.88 505.45 L585.22 505.45 L585.56 505.45 L585.90 505.45 L586.24 505.45 L586.58 505.45 L586.92 505.45 L587.26 505.45 L587.60 505.45 L587.94 505.45 L588.28 505.45 L588.62 505.45 L588.96 505.45 L589.30 505.45 L589.64 505.46 L589.98 505.46 L590.32 505.46 L590.66 505.46 L591.00 505.46 L591.34 505.46 L591.68 505.46 L592.02 505.46 L592.36 505.46 L592.70 505.46 L593.04 505.46 L593.38 505.46 L593.72 505.46 L594.06 505.46 L594.40 505.46 L594.74 505.46 L595.08 505.46 L595.41 505.46 L595.75 505.46 L596.09 505.46 L596.43 505.46 L596.77 505.46 L597.11 505.46 L597.45 505.46 L597.79 505.46 L598.13 505.47 L598.47 505.47 L598.81 505.47 L599.15 505.47 L599.49 505.47 L599.83 505.47 L600.17 505.47 L600.51 505.47 L600.85 505.47 L601.19 505.47 L601.53 505.47 L601.87 505.47 L602.21 505.47 L602.55 505.47 L602.89 505.47 L603.23 505.47 L603.57 505.47 L603.91 505.47 L604.25 505.47 L604.59 505.47 L604.93 505.47 L605.27 505.47 L605.61 505.47 L605.95 505.47 L606.29 505.47 L606.63 505.47 L606.97 505.47 L607.31 505.47 L607.65 505.47 L607.99 505.47 L608.33 505.47 L608.67 505.47 L609.01 505.47 L609.35 505.47 L609.69 505.48 L610.03 505.48 L610.37 505.48 L610.71 505.48 L611.05 505.48 L611.39 505.48 L611.73 505.48 L612.07 505.48 L612.41 505.48 L612.75 505.48 L613.09 505.48 L613.43 505.48 L613.77 505.48 L614.11 505.48 L614.45 505.48 L614.79 505.48 L615.13 505.48 L615.47 505.48 L615.81 505.48 L616.15 505.48 L616.49 505.48 L616.83 505.48 L617.17 505.48 L617.51 505.48 L617.85 505.48 L618.19 505.48 L618.53 505.48 L618.87 505.48 L619.21 505.48 L619.55 505.48 L619.89 505.48 L620.23 505.48 L620.57 505.48 L620.91 505.48 L621.25 505.48 L621.59 505.48 L621.93 505.48 L622.27 505.48 L622.61 505.48 L622.95 505.48 L623.29 505.48 L623.63 505.48 L623.97 505.48 L624.31 505.48 L624.65 505.48 L624.99 505.48 L625.33 505.48 L625.67 505.48 L626.00 505.48 L626.34 505.48 L626.68 505.48 L627.02 505.48 L627.36 505.49 L627.70 505.49 L628.04 505.49 L628.38 505.49 L628.72 505.49 L629.06 505.49 L629.40 505.49 L629.74 505.49 L630.08 505.49 L630.42 505.49 L630.76 505.49 L631.10 505.49 L631.44 505.49 L631.78 505.49 L632.12 505.49 L632.46 505.49 L632.80 505.49 L633.14 505.49 L633.48 505.49 L633.82 505.49 L634.16 505.49 L634.50 505.49 L634.84 505.49 L635.18 505.49 L635.52 505.49 L635.86 505.49 L636.20 505.49 L636.54 505.49 L636.88 505.49 L637.22 505.49 L637.56 505.49 L637.90 505.49 L638.24 505.49 L638.58 505.49 L638.92 505.49 L639.26 505.49 L639.60 505.49 L639.94 505.49 L640.28 505.49 L640.62 505.49 L640.96 505.49 L641.30 505.49" stroke="#000000"/>
</g>
<g font-family="'Liberation Sans', sans-serif" font-size="16" fill="#1a1a1a" stroke="#1a1a1a" stroke-width="0.3">
<text x="29.50" y="528.6" text-anchor="middle">0</text>
<text x="97.48" y="528.6" text-anchor="middle">20</text>
<text x="165.46" y="528.6" text-anchor="middle">40</text>
<text x="233.43" y="528.6" text-anchor="middle">60</text>
<text x="301.41" y="528.6" text-anchor="middle">80</text>
<text x="369.39" y="528.6" text-anchor="middle">100</text>
<text x="437.37" y="528.6" text-anchor="middle">120</text>
<text x="505.34" y="528.6" text-anchor="middle">140</text>
<text x="573.32" y="528.6" text-anchor="middle">160</text>
<text x="641.30" y="528.6" text-anchor="middle">180</text>
<text x="23.1" y="511.80" text-anchor="end" font-size="16.3">0</text>
<text x="23.1" y="415.04" text-anchor="end" font-size="16.3">0.5</text>
<text x="23.1" y="318.28" text-anchor="end" font-size="16.3">1</text>
<text x="23.1" y="221.52" text-anchor="end" font-size="16.3">1.5</text>
<text x="23.1" y="124.76" text-anchor="end" font-size="16.3">2</text>
<text x="23.1" y="28.00" text-anchor="end" font-size="16.3">2.5</text>
<text x="29.6" y="19.1" font-family="'DejaVu Sans', sans-serif" font-size="15.5" stroke="none" fill="#333">×</text>
<text x="44.6" y="17.8" font-size="16.5">10</text>
<text x="63.3" y="10.1" font-size="14">6</text>
<text x="335.4" y="551.8" text-anchor="middle" font-size="18.4">time (days)</text>
<rect x="559.5" y="33" width="71" height="105.5" fill="#fff" stroke="#5a5a5a" stroke-width="1"/>
<g fill="none" stroke-width="1.5">
<path d="M565 46.3 H607.6" stroke="#0000ff"/>
<path d="M565 71.2 H607.6" stroke="#ff0000"/>
<path d="M565 100.05 H607.6" stroke="#ff0000" stroke-width="1.6" stroke-dasharray="1.6 4.06"/>
<path d="M565 125.05 H607.6" stroke="#000000"/>
</g>
<text x="612.0" y="51.9" font-size="16.5">E</text>
<text x="612.2" y="74.5">I</text><text x="617.2" y="83.4" font-size="14">s</text>
<text x="612.2" y="102.8">I</text><text x="617.0" y="111.2" font-size="14">h</text>
<text x="612.0" y="131.75" font-size="16.5">A</text>
</g>
</svg>
</body></html>
